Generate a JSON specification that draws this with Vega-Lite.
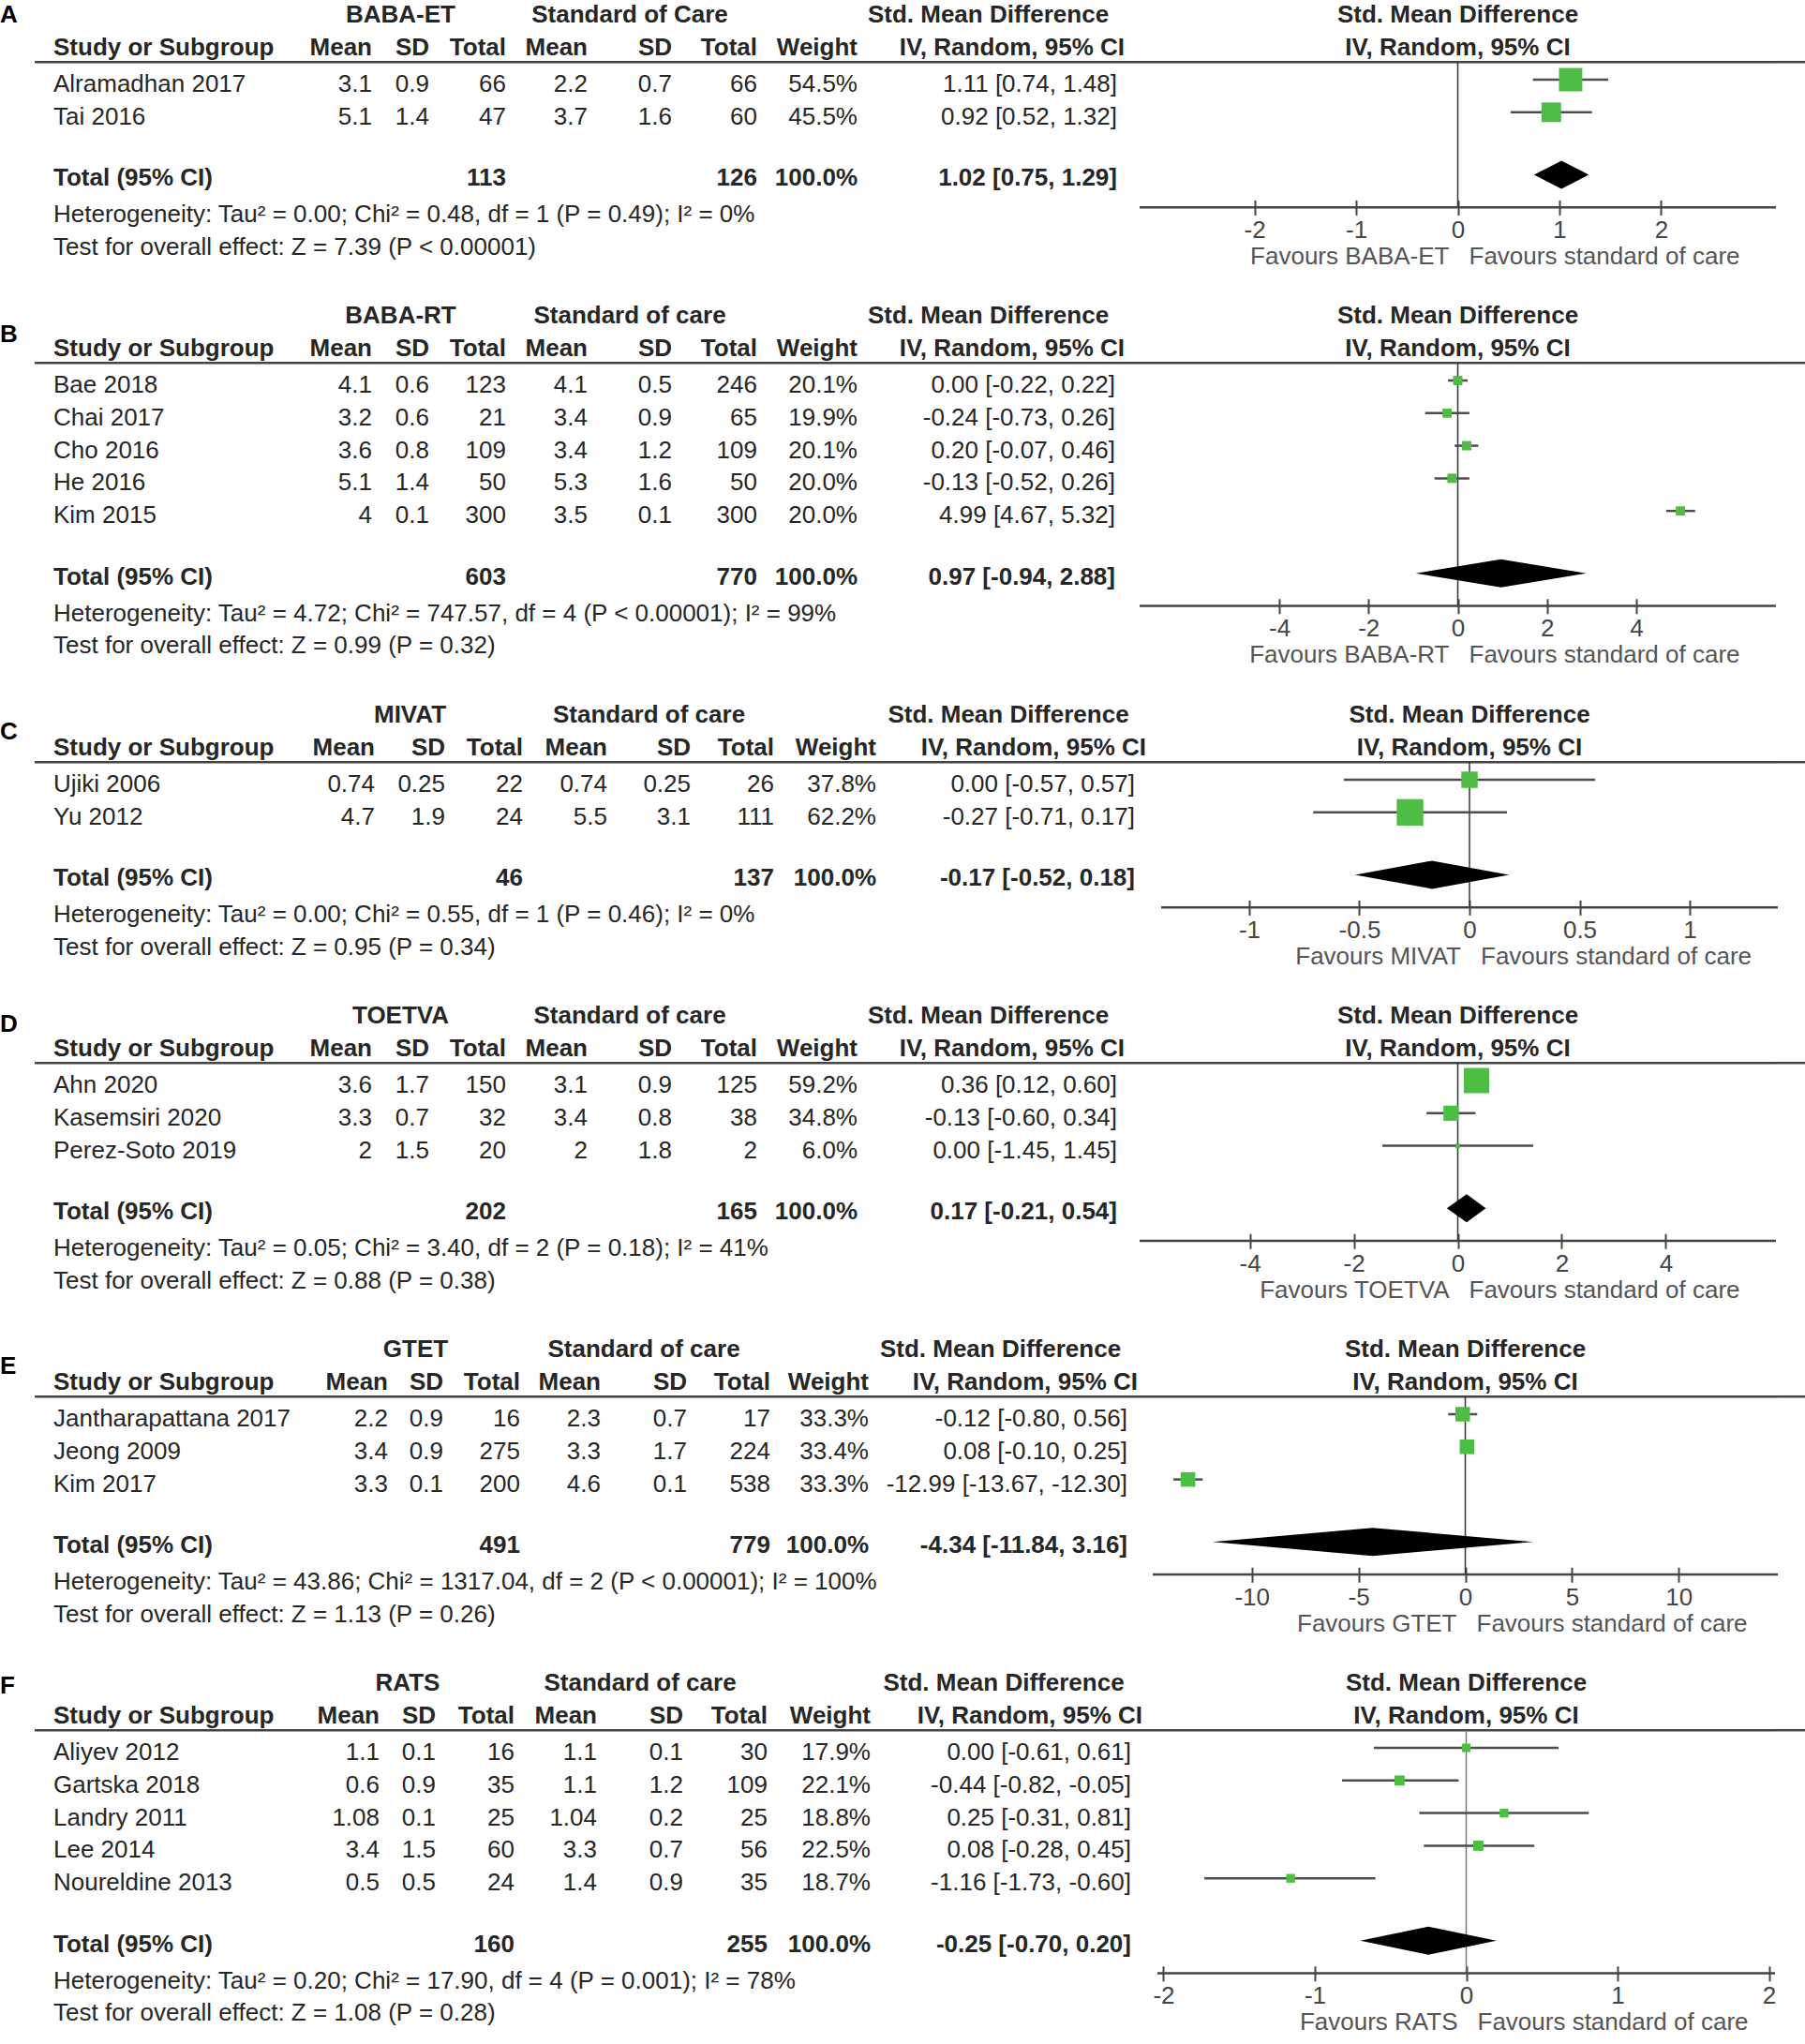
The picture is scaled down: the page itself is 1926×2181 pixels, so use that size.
{
"$schema":"https://vega.github.io/schema/vega-lite/v6.json",
"background":"white",
"padding":{"left":0,"top":3,"right":0,"bottom":0},
"config":{"view":{"stroke":null},"text":{"font":"Liberation Sans","fontSize":26,"baseline":"middle","color":"#262626"}},
"datasets":{"rows":[
{"p":"A","row":"h1","kind":"group","letter":"A","sd1":"BABA-ET","sd2":"Standard of Care","ci":"Std. Mean Difference","fl":"Favours BABA-ET","fr":"Favours standard of care"},
{"p":"A","row":"h2","kind":"header","name":"Study or Subgroup","m1":"Mean","sd1":"SD","n1":"Total","m2":"Mean","sd2":"SD","n2":"Total","w":"Weight","ci":"IV, Random, 95% CI"},
{"p":"A","row":"Alramadhan 2017","kind":"study","name":"Alramadhan 2017","m1":3.1,"sd1":0.9,"n1":66,"m2":2.2,"sd2":0.7,"n2":66,"wt":0.545,"ci":"1.11 [0.74, 1.48]","est":1.11,"lo":0.74,"hi":1.48},
{"p":"A","row":"Tai 2016","kind":"study","name":"Tai 2016","m1":5.1,"sd1":1.4,"n1":47,"m2":3.7,"sd2":1.6,"n2":60,"wt":0.455,"ci":"0.92 [0.52, 1.32]","est":0.92,"lo":0.52,"hi":1.32},
{"p":"A","row":"total","kind":"total","name":"Total (95% CI)","n1":113,"n2":126,"wt":1,"ci":"1.02 [0.75, 1.29]","est":1.02,"lo":0.75,"hi":1.29},
{"p":"A","row":"het","kind":"note","name":"Heterogeneity: Tau² = 0.00; Chi² = 0.48, df = 1 (P = 0.49); I² = 0%"},
{"p":"A","row":"test","kind":"note","name":"Test for overall effect: Z = 7.39 (P < 0.00001)"},
{"p":"B","row":"h1","kind":"group","letter":"B","sd1":"BABA-RT","sd2":"Standard of care","ci":"Std. Mean Difference","fl":"Favours BABA-RT","fr":"Favours standard of care"},
{"p":"B","row":"h2","kind":"header","name":"Study or Subgroup","m1":"Mean","sd1":"SD","n1":"Total","m2":"Mean","sd2":"SD","n2":"Total","w":"Weight","ci":"IV, Random, 95% CI"},
{"p":"B","row":"Bae 2018","kind":"study","name":"Bae 2018","m1":4.1,"sd1":0.6,"n1":123,"m2":4.1,"sd2":0.5,"n2":246,"wt":0.201,"ci":"0.00 [-0.22, 0.22]","est":0,"lo":-0.22,"hi":0.22},
{"p":"B","row":"Chai 2017","kind":"study","name":"Chai 2017","m1":3.2,"sd1":0.6,"n1":21,"m2":3.4,"sd2":0.9,"n2":65,"wt":0.199,"ci":"-0.24 [-0.73, 0.26]","est":-0.24,"lo":-0.73,"hi":0.26},
{"p":"B","row":"Cho 2016","kind":"study","name":"Cho 2016","m1":3.6,"sd1":0.8,"n1":109,"m2":3.4,"sd2":1.2,"n2":109,"wt":0.201,"ci":"0.20 [-0.07, 0.46]","est":0.2,"lo":-0.07,"hi":0.46},
{"p":"B","row":"He 2016","kind":"study","name":"He 2016","m1":5.1,"sd1":1.4,"n1":50,"m2":5.3,"sd2":1.6,"n2":50,"wt":0.2,"ci":"-0.13 [-0.52, 0.26]","est":-0.13,"lo":-0.52,"hi":0.26},
{"p":"B","row":"Kim 2015","kind":"study","name":"Kim 2015","m1":4,"sd1":0.1,"n1":300,"m2":3.5,"sd2":0.1,"n2":300,"wt":0.2,"ci":"4.99 [4.67, 5.32]","est":4.99,"lo":4.67,"hi":5.32},
{"p":"B","row":"total","kind":"total","name":"Total (95% CI)","n1":603,"n2":770,"wt":1,"ci":"0.97 [-0.94, 2.88]","est":0.97,"lo":-0.94,"hi":2.88},
{"p":"B","row":"het","kind":"note","name":"Heterogeneity: Tau² = 4.72; Chi² = 747.57, df = 4 (P < 0.00001); I² = 99%"},
{"p":"B","row":"test","kind":"note","name":"Test for overall effect: Z = 0.99 (P = 0.32)"},
{"p":"C","row":"h1","kind":"group","letter":"C","sd1":"MIVAT","sd2":"Standard of care","ci":"Std. Mean Difference","fl":"Favours MIVAT","fr":"Favours standard of care"},
{"p":"C","row":"h2","kind":"header","name":"Study or Subgroup","m1":"Mean","sd1":"SD","n1":"Total","m2":"Mean","sd2":"SD","n2":"Total","w":"Weight","ci":"IV, Random, 95% CI"},
{"p":"C","row":"Ujiki 2006","kind":"study","name":"Ujiki 2006","m1":0.74,"sd1":0.25,"n1":22,"m2":0.74,"sd2":0.25,"n2":26,"wt":0.378,"ci":"0.00 [-0.57, 0.57]","est":0,"lo":-0.57,"hi":0.57},
{"p":"C","row":"Yu 2012","kind":"study","name":"Yu 2012","m1":4.7,"sd1":1.9,"n1":24,"m2":5.5,"sd2":3.1,"n2":111,"wt":0.622,"ci":"-0.27 [-0.71, 0.17]","est":-0.27,"lo":-0.71,"hi":0.17},
{"p":"C","row":"total","kind":"total","name":"Total (95% CI)","n1":46,"n2":137,"wt":1,"ci":"-0.17 [-0.52, 0.18]","est":-0.17,"lo":-0.52,"hi":0.18},
{"p":"C","row":"het","kind":"note","name":"Heterogeneity: Tau² = 0.00; Chi² = 0.55, df = 1 (P = 0.46); I² = 0%"},
{"p":"C","row":"test","kind":"note","name":"Test for overall effect: Z = 0.95 (P = 0.34)"},
{"p":"D","row":"h1","kind":"group","letter":"D","sd1":"TOETVA","sd2":"Standard of care","ci":"Std. Mean Difference","fl":"Favours TOETVA","fr":"Favours standard of care"},
{"p":"D","row":"h2","kind":"header","name":"Study or Subgroup","m1":"Mean","sd1":"SD","n1":"Total","m2":"Mean","sd2":"SD","n2":"Total","w":"Weight","ci":"IV, Random, 95% CI"},
{"p":"D","row":"Ahn 2020","kind":"study","name":"Ahn 2020","m1":3.6,"sd1":1.7,"n1":150,"m2":3.1,"sd2":0.9,"n2":125,"wt":0.592,"ci":"0.36 [0.12, 0.60]","est":0.36,"lo":0.12,"hi":0.6},
{"p":"D","row":"Kasemsiri 2020","kind":"study","name":"Kasemsiri 2020","m1":3.3,"sd1":0.7,"n1":32,"m2":3.4,"sd2":0.8,"n2":38,"wt":0.348,"ci":"-0.13 [-0.60, 0.34]","est":-0.13,"lo":-0.6,"hi":0.34},
{"p":"D","row":"Perez-Soto 2019","kind":"study","name":"Perez-Soto 2019","m1":2,"sd1":1.5,"n1":20,"m2":2,"sd2":1.8,"n2":2,"wt":0.06,"ci":"0.00 [-1.45, 1.45]","est":0,"lo":-1.45,"hi":1.45},
{"p":"D","row":"total","kind":"total","name":"Total (95% CI)","n1":202,"n2":165,"wt":1,"ci":"0.17 [-0.21, 0.54]","est":0.17,"lo":-0.21,"hi":0.54},
{"p":"D","row":"het","kind":"note","name":"Heterogeneity: Tau² = 0.05; Chi² = 3.40, df = 2 (P = 0.18); I² = 41%"},
{"p":"D","row":"test","kind":"note","name":"Test for overall effect: Z = 0.88 (P = 0.38)"},
{"p":"E","row":"h1","kind":"group","letter":"E","sd1":"GTET","sd2":"Standard of care","ci":"Std. Mean Difference","fl":"Favours GTET","fr":"Favours standard of care"},
{"p":"E","row":"h2","kind":"header","name":"Study or Subgroup","m1":"Mean","sd1":"SD","n1":"Total","m2":"Mean","sd2":"SD","n2":"Total","w":"Weight","ci":"IV, Random, 95% CI"},
{"p":"E","row":"Jantharapattana 2017","kind":"study","name":"Jantharapattana 2017","m1":2.2,"sd1":0.9,"n1":16,"m2":2.3,"sd2":0.7,"n2":17,"wt":0.333,"ci":"-0.12 [-0.80, 0.56]","est":-0.12,"lo":-0.8,"hi":0.56},
{"p":"E","row":"Jeong 2009","kind":"study","name":"Jeong 2009","m1":3.4,"sd1":0.9,"n1":275,"m2":3.3,"sd2":1.7,"n2":224,"wt":0.334,"ci":"0.08 [-0.10, 0.25]","est":0.08,"lo":-0.1,"hi":0.25},
{"p":"E","row":"Kim 2017","kind":"study","name":"Kim 2017","m1":3.3,"sd1":0.1,"n1":200,"m2":4.6,"sd2":0.1,"n2":538,"wt":0.333,"ci":"-12.99 [-13.67, -12.30]","est":-12.99,"lo":-13.67,"hi":-12.3},
{"p":"E","row":"total","kind":"total","name":"Total (95% CI)","n1":491,"n2":779,"wt":1,"ci":"-4.34 [-11.84, 3.16]","est":-4.34,"lo":-11.84,"hi":3.16},
{"p":"E","row":"het","kind":"note","name":"Heterogeneity: Tau² = 43.86; Chi² = 1317.04, df = 2 (P < 0.00001); I² = 100%"},
{"p":"E","row":"test","kind":"note","name":"Test for overall effect: Z = 1.13 (P = 0.26)"},
{"p":"F","row":"h1","kind":"group","letter":"F","sd1":"RATS","sd2":"Standard of care","ci":"Std. Mean Difference","fl":"Favours RATS","fr":"Favours standard of care"},
{"p":"F","row":"h2","kind":"header","name":"Study or Subgroup","m1":"Mean","sd1":"SD","n1":"Total","m2":"Mean","sd2":"SD","n2":"Total","w":"Weight","ci":"IV, Random, 95% CI"},
{"p":"F","row":"Aliyev 2012","kind":"study","name":"Aliyev 2012","m1":1.1,"sd1":0.1,"n1":16,"m2":1.1,"sd2":0.1,"n2":30,"wt":0.179,"ci":"0.00 [-0.61, 0.61]","est":0,"lo":-0.61,"hi":0.61},
{"p":"F","row":"Gartska 2018","kind":"study","name":"Gartska 2018","m1":0.6,"sd1":0.9,"n1":35,"m2":1.1,"sd2":1.2,"n2":109,"wt":0.221,"ci":"-0.44 [-0.82, -0.05]","est":-0.44,"lo":-0.82,"hi":-0.05},
{"p":"F","row":"Landry 2011","kind":"study","name":"Landry 2011","m1":1.08,"sd1":0.1,"n1":25,"m2":1.04,"sd2":0.2,"n2":25,"wt":0.188,"ci":"0.25 [-0.31, 0.81]","est":0.25,"lo":-0.31,"hi":0.81},
{"p":"F","row":"Lee 2014","kind":"study","name":"Lee 2014","m1":3.4,"sd1":1.5,"n1":60,"m2":3.3,"sd2":0.7,"n2":56,"wt":0.225,"ci":"0.08 [-0.28, 0.45]","est":0.08,"lo":-0.28,"hi":0.45},
{"p":"F","row":"Noureldine 2013","kind":"study","name":"Noureldine 2013","m1":0.5,"sd1":0.5,"n1":24,"m2":1.4,"sd2":0.9,"n2":35,"wt":0.187,"ci":"-1.16 [-1.73, -0.60]","est":-1.16,"lo":-1.73,"hi":-0.6},
{"p":"F","row":"total","kind":"total","name":"Total (95% CI)","n1":160,"n2":255,"wt":1,"ci":"-0.25 [-0.70, 0.20]","est":-0.25,"lo":-0.7,"hi":0.2},
{"p":"F","row":"het","kind":"note","name":"Heterogeneity: Tau² = 0.20; Chi² = 17.90, df = 4 (P = 0.001); I² = 78%"},
{"p":"F","row":"test","kind":"note","name":"Test for overall effect: Z = 1.08 (P = 0.28)"}
]},
"spacing":37,
"vconcat":[
{"data":{"name":"rows"},"transform":[{"filter":"datum.p=='A'"}],"spacing":0,"bounds":"flush","hconcat":[
{"width":37,"height":278.4,"encoding":{"y":{"field":"row","type":"nominal","scale":{"type":"point","padding":0.5,"domain":["h1","h2","Alramadhan 2017","Tai 2016","gap","total","het","test"]},"axis":null}},"layer":[
{"transform":[{"filter":"datum.kind=='group'"}],"mark":{"type":"text","align":"left","fontWeight":"bold","fontSize":26,"dy":-4,"color":"#000"},"encoding":{"x":{"datum":0,"type":"quantitative","scale":{"domain":[0,1]},"axis":null},"text":{"field":"letter","type":"nominal"}}}]},
{"width":283,"height":278.4,"encoding":{"y":{"field":"row","type":"nominal","scale":{"type":"point","padding":0.5,"domain":["h1","h2","Alramadhan 2017","Tai 2016","gap","total","het","test"]},"axis":null}},"layer":[
{"transform":[{"filter":"datum.kind=='study'||datum.kind=='note'"}],"mark":{"type":"text","align":"left","dx":20},"encoding":{"x":{"datum":0,"type":"quantitative","scale":{"domain":[0,1]},"axis":null},"text":{"field":"name","type":"nominal"}}},
{"transform":[{"filter":"datum.kind=='header'||datum.kind=='total'"}],"mark":{"type":"text","align":"left","dx":20,"dy":-4,"fontWeight":"bold"},"encoding":{"x":{"datum":0,"type":"quantitative","scale":{"domain":[0,1]},"axis":null},"text":{"field":"name","type":"nominal"}}},
{"transform":[{"filter":"datum.kind=='group'"}],"mark":{"type":"rule","yOffset":11,"color":"#444","strokeWidth":2.5},"encoding":{"y":{"datum":"h2","type":"nominal"}}}]},
{"width":77,"height":278.4,"encoding":{"y":{"field":"row","type":"nominal","scale":{"type":"point","padding":0.5,"domain":["h1","h2","Alramadhan 2017","Tai 2016","gap","total","het","test"]},"axis":null}},"layer":[
{"transform":[{"filter":"datum.kind=='study'"}],"mark":{"type":"text","align":"right"},"encoding":{"x":{"datum":1,"type":"quantitative","scale":{"domain":[0,1]},"axis":null},"text":{"field":"m1","type":"quantitative"}}},
{"transform":[{"filter":"datum.kind=='header'"}],"mark":{"type":"text","align":"right","dy":-4,"fontWeight":"bold"},"encoding":{"x":{"datum":1,"type":"quantitative","scale":{"domain":[0,1]},"axis":null},"text":{"field":"m1","type":"nominal"}}},
{"transform":[{"filter":"datum.kind=='group'"}],"mark":{"type":"rule","yOffset":11,"color":"#444","strokeWidth":2.5},"encoding":{"y":{"datum":"h2","type":"nominal"}}}]},
{"width":61,"height":278.4,"encoding":{"y":{"field":"row","type":"nominal","scale":{"type":"point","padding":0.5,"domain":["h1","h2","Alramadhan 2017","Tai 2016","gap","total","het","test"]},"axis":null}},"layer":[
{"transform":[{"filter":"datum.kind=='study'"}],"mark":{"type":"text","align":"right"},"encoding":{"x":{"datum":1,"type":"quantitative","scale":{"domain":[0,1]},"axis":null},"text":{"field":"sd1","type":"quantitative"}}},
{"transform":[{"filter":"datum.kind=='header'"}],"mark":{"type":"text","align":"right","dy":-4,"fontWeight":"bold"},"encoding":{"x":{"datum":1,"type":"quantitative","scale":{"domain":[0,1]},"axis":null},"text":{"field":"sd1","type":"nominal"}}},
{"transform":[{"filter":"datum.kind=='group'"}],"mark":{"type":"text","align":"center","dy":-4,"fontWeight":"bold"},"encoding":{"x":{"datum":0.5,"type":"quantitative","scale":{"domain":[0,1]},"axis":null},"text":{"field":"sd1","type":"nominal"}}},
{"transform":[{"filter":"datum.kind=='group'"}],"mark":{"type":"rule","yOffset":11,"color":"#444","strokeWidth":2.5},"encoding":{"y":{"datum":"h2","type":"nominal"}}}]},
{"width":82,"height":278.4,"encoding":{"y":{"field":"row","type":"nominal","scale":{"type":"point","padding":0.5,"domain":["h1","h2","Alramadhan 2017","Tai 2016","gap","total","het","test"]},"axis":null}},"layer":[
{"transform":[{"filter":"datum.kind=='study'"}],"mark":{"type":"text","align":"right"},"encoding":{"x":{"datum":1,"type":"quantitative","scale":{"domain":[0,1]},"axis":null},"text":{"field":"n1","type":"quantitative"}}},
{"transform":[{"filter":"datum.kind=='header'||datum.kind=='total'"}],"mark":{"type":"text","align":"right","dy":-4,"fontWeight":"bold"},"encoding":{"x":{"datum":1,"type":"quantitative","scale":{"domain":[0,1]},"axis":null},"text":{"field":"n1","type":"nominal"}}},
{"transform":[{"filter":"datum.kind=='group'"}],"mark":{"type":"rule","yOffset":11,"color":"#444","strokeWidth":2.5},"encoding":{"y":{"datum":"h2","type":"nominal"}}}]},
{"width":87,"height":278.4,"encoding":{"y":{"field":"row","type":"nominal","scale":{"type":"point","padding":0.5,"domain":["h1","h2","Alramadhan 2017","Tai 2016","gap","total","het","test"]},"axis":null}},"layer":[
{"transform":[{"filter":"datum.kind=='study'"}],"mark":{"type":"text","align":"right"},"encoding":{"x":{"datum":1,"type":"quantitative","scale":{"domain":[0,1]},"axis":null},"text":{"field":"m2","type":"quantitative"}}},
{"transform":[{"filter":"datum.kind=='header'"}],"mark":{"type":"text","align":"right","dy":-4,"fontWeight":"bold"},"encoding":{"x":{"datum":1,"type":"quantitative","scale":{"domain":[0,1]},"axis":null},"text":{"field":"m2","type":"nominal"}}},
{"transform":[{"filter":"datum.kind=='group'"}],"mark":{"type":"rule","yOffset":11,"color":"#444","strokeWidth":2.5},"encoding":{"y":{"datum":"h2","type":"nominal"}}}]},
{"width":90,"height":278.4,"encoding":{"y":{"field":"row","type":"nominal","scale":{"type":"point","padding":0.5,"domain":["h1","h2","Alramadhan 2017","Tai 2016","gap","total","het","test"]},"axis":null}},"layer":[
{"transform":[{"filter":"datum.kind=='study'"}],"mark":{"type":"text","align":"right"},"encoding":{"x":{"datum":1,"type":"quantitative","scale":{"domain":[0,1]},"axis":null},"text":{"field":"sd2","type":"quantitative"}}},
{"transform":[{"filter":"datum.kind=='header'"}],"mark":{"type":"text","align":"right","dy":-4,"fontWeight":"bold"},"encoding":{"x":{"datum":1,"type":"quantitative","scale":{"domain":[0,1]},"axis":null},"text":{"field":"sd2","type":"nominal"}}},
{"transform":[{"filter":"datum.kind=='group'"}],"mark":{"type":"text","align":"center","dy":-4,"fontWeight":"bold"},"encoding":{"x":{"datum":0.5,"type":"quantitative","scale":{"domain":[0,1]},"axis":null},"text":{"field":"sd2","type":"nominal"}}},
{"transform":[{"filter":"datum.kind=='group'"}],"mark":{"type":"rule","yOffset":11,"color":"#444","strokeWidth":2.5},"encoding":{"y":{"datum":"h2","type":"nominal"}}}]},
{"width":91,"height":278.4,"encoding":{"y":{"field":"row","type":"nominal","scale":{"type":"point","padding":0.5,"domain":["h1","h2","Alramadhan 2017","Tai 2016","gap","total","het","test"]},"axis":null}},"layer":[
{"transform":[{"filter":"datum.kind=='study'"}],"mark":{"type":"text","align":"right"},"encoding":{"x":{"datum":1,"type":"quantitative","scale":{"domain":[0,1]},"axis":null},"text":{"field":"n2","type":"quantitative"}}},
{"transform":[{"filter":"datum.kind=='header'||datum.kind=='total'"}],"mark":{"type":"text","align":"right","dy":-4,"fontWeight":"bold"},"encoding":{"x":{"datum":1,"type":"quantitative","scale":{"domain":[0,1]},"axis":null},"text":{"field":"n2","type":"nominal"}}},
{"transform":[{"filter":"datum.kind=='group'"}],"mark":{"type":"rule","yOffset":11,"color":"#444","strokeWidth":2.5},"encoding":{"y":{"datum":"h2","type":"nominal"}}}]},
{"width":107,"height":278.4,"encoding":{"y":{"field":"row","type":"nominal","scale":{"type":"point","padding":0.5,"domain":["h1","h2","Alramadhan 2017","Tai 2016","gap","total","het","test"]},"axis":null}},"layer":[
{"transform":[{"filter":"datum.kind=='study'"}],"mark":{"type":"text","align":"right"},"encoding":{"x":{"datum":1,"type":"quantitative","scale":{"domain":[0,1]},"axis":null},"text":{"field":"wt","type":"quantitative","format":".1%"}}},
{"transform":[{"filter":"datum.kind=='total'"}],"mark":{"type":"text","align":"right","dy":-4,"fontWeight":"bold"},"encoding":{"x":{"datum":1,"type":"quantitative","scale":{"domain":[0,1]},"axis":null},"text":{"field":"wt","type":"quantitative","format":".1%"}}},
{"transform":[{"filter":"datum.kind=='header'"}],"mark":{"type":"text","align":"right","dy":-4,"fontWeight":"bold"},"encoding":{"x":{"datum":1,"type":"quantitative","scale":{"domain":[0,1]},"axis":null},"text":{"field":"w","type":"nominal"}}},
{"transform":[{"filter":"datum.kind=='group'"}],"mark":{"type":"rule","yOffset":11,"color":"#444","strokeWidth":2.5},"encoding":{"y":{"datum":"h2","type":"nominal"}}}]},
{"width":301,"height":278.4,"encoding":{"y":{"field":"row","type":"nominal","scale":{"type":"point","padding":0.5,"domain":["h1","h2","Alramadhan 2017","Tai 2016","gap","total","het","test"]},"axis":null}},"layer":[
{"transform":[{"filter":"datum.kind=='study'"}],"mark":{"type":"text","align":"right","dx":-24},"encoding":{"x":{"datum":1,"type":"quantitative","scale":{"domain":[0,1]},"axis":null},"text":{"field":"ci","type":"nominal"}}},
{"transform":[{"filter":"datum.kind=='total'"}],"mark":{"type":"text","align":"right","dx":-24,"dy":-4,"fontWeight":"bold"},"encoding":{"x":{"datum":1,"type":"quantitative","scale":{"domain":[0,1]},"axis":null},"text":{"field":"ci","type":"nominal"}}},
{"transform":[{"filter":"datum.kind=='header'"}],"mark":{"type":"text","align":"right","dx":-16,"dy":-4,"fontWeight":"bold"},"encoding":{"x":{"datum":1,"type":"quantitative","scale":{"domain":[0,1]},"axis":null},"text":{"field":"ci","type":"nominal"}}},
{"transform":[{"filter":"datum.kind=='group'"}],"mark":{"type":"text","align":"center","dx":-11,"dy":-4,"fontWeight":"bold"},"encoding":{"x":{"datum":0.5,"type":"quantitative","scale":{"domain":[0,1]},"axis":null},"text":{"field":"ci","type":"nominal"}}},
{"transform":[{"filter":"datum.kind=='group'"}],"mark":{"type":"rule","yOffset":11,"color":"#444","strokeWidth":2.5},"encoding":{"y":{"datum":"h2","type":"nominal"}}}]},
{"width":679,"height":278.4,"encoding":{"y":{"field":"row","type":"nominal","scale":{"type":"point","padding":0.5,"domain":["h1","h2","Alramadhan 2017","Tai 2016","gap","total","het","test"]},"axis":null}},"layer":[
{"transform":[{"filter":"datum.kind=='header'||datum.kind=='group'"}],"mark":{"type":"text","align":"center","dy":-4,"fontWeight":"bold"},"encoding":{"x":{"datum":0,"type":"quantitative","scale":{"domain":[-3.13,3.13],"nice":false}},"text":{"field":"ci","type":"nominal"}}},
{"transform":[{"filter":"datum.kind=='group'"}],"mark":{"type":"rule","yOffset":11,"color":"#444","strokeWidth":2.5},"encoding":{"y":{"datum":"h2","type":"nominal"}}},
{"transform":[{"filter":"datum.kind=='group'"}],"mark":{"type":"rule","color":"#333","strokeWidth":1.5,"yOffset":11,"y2Offset":-8},"encoding":{"x":{"datum":0,"type":"quantitative","scale":{"domain":[-3.13,3.13],"nice":false}},"y":{"datum":"h2","type":"nominal"},"y2":{"datum":"het"}}},
{"transform":[{"filter":"datum.kind=='group'"}],"mark":{"type":"rule","color":"#444","strokeWidth":2.5,"yOffset":-8},"encoding":{"y":{"datum":"het","type":"nominal"}}},
{"transform":[{"filter":"datum.kind=='study'"}],"mark":{"type":"rule","color":"#4d4d4d","strokeWidth":2.5,"yOffset":-5},"encoding":{"x":{"field":"lo","type":"quantitative","scale":{"domain":[-3.13,3.13],"nice":false}},"x2":{"field":"hi"}}},
{"transform":[{"filter":"datum.kind=='study'"}],"mark":{"type":"point","shape":"square","filled":true,"color":"#4dbd44","opacity":1,"strokeWidth":0,"yOffset":-5},"encoding":{"x":{"field":"est","type":"quantitative","scale":{"domain":[-3.13,3.13],"nice":false},"axis":{"orient":"bottom","offset":-68,"values":[-2,-1,0,1,2],"format":"~g","labelExpr":"replace(datum.label,'−','-')","domain":false,"grid":false,"tickSize":16,"tickWidth":2,"tickColor":"#444","labelFontSize":26,"labelColor":"#444","labelFont":"Liberation Sans","labelPadding":3,"labelFlush":false,"labelOverlap":false,"title":null}},"size":{"field":"wt","type":"quantitative","scale":{"type":"pow","exponent":2,"domain":[0,1],"range":[16,2049]},"legend":null}}},
{"transform":[{"filter":"datum.kind=='total'"},{"fold":["lo","est","hi"]}],"mark":{"type":"area","orient":"vertical","color":"#000","opacity":1,"yOffset":{"expr":"datum.key=='est' ? -23 : -8"},"y2Offset":{"expr":"datum.key=='est' ? 7 : -8"}},"encoding":{"x":{"field":"value","type":"quantitative","stack":null,"scale":{"domain":[-3.13,3.13],"nice":false}},"y":{"datum":"total","type":"nominal"},"y2":{"datum":"total"}}},
{"transform":[{"filter":"datum.kind=='group'"}],"mark":{"type":"text","align":"right","dx":-9,"dy":10,"color":"#555"},"encoding":{"x":{"datum":0,"type":"quantitative","scale":{"domain":[-3.13,3.13],"nice":false}},"y":{"datum":"test","type":"nominal"},"text":{"field":"fl","type":"nominal"}}},
{"transform":[{"filter":"datum.kind=='group'"}],"mark":{"type":"text","align":"left","dx":12,"dy":10,"color":"#555"},"encoding":{"x":{"datum":0,"type":"quantitative","scale":{"domain":[-3.13,3.13],"nice":false}},"y":{"datum":"test","type":"nominal"},"text":{"field":"fr","type":"nominal"}}}]},
{"width":31,"height":278.4,"encoding":{"y":{"field":"row","type":"nominal","scale":{"type":"point","padding":0.5,"domain":["h1","h2","Alramadhan 2017","Tai 2016","gap","total","het","test"]},"axis":null}},"layer":[
{"transform":[{"filter":"datum.kind=='group'"}],"mark":{"type":"rule","yOffset":11,"color":"#444","strokeWidth":2.5},"encoding":{"y":{"datum":"h2","type":"nominal"}}}]}
]},
{"data":{"name":"rows"},"transform":[{"filter":"datum.p=='B'"}],"spacing":0,"bounds":"flush","hconcat":[
{"width":37,"height":382.8,"encoding":{"y":{"field":"row","type":"nominal","scale":{"type":"point","padding":0.5,"domain":["h1","h2","Bae 2018","Chai 2017","Cho 2016","He 2016","Kim 2015","gap","total","het","test"]},"axis":null}},"layer":[
{"transform":[{"filter":"datum.kind=='group'"}],"mark":{"type":"text","align":"left","fontWeight":"bold","fontSize":26,"dy":16,"color":"#000"},"encoding":{"x":{"datum":0,"type":"quantitative","scale":{"domain":[0,1]},"axis":null},"text":{"field":"letter","type":"nominal"}}}]},
{"width":283,"height":382.8,"encoding":{"y":{"field":"row","type":"nominal","scale":{"type":"point","padding":0.5,"domain":["h1","h2","Bae 2018","Chai 2017","Cho 2016","He 2016","Kim 2015","gap","total","het","test"]},"axis":null}},"layer":[
{"transform":[{"filter":"datum.kind=='study'||datum.kind=='note'"}],"mark":{"type":"text","align":"left","dx":20},"encoding":{"x":{"datum":0,"type":"quantitative","scale":{"domain":[0,1]},"axis":null},"text":{"field":"name","type":"nominal"}}},
{"transform":[{"filter":"datum.kind=='header'||datum.kind=='total'"}],"mark":{"type":"text","align":"left","dx":20,"dy":-4,"fontWeight":"bold"},"encoding":{"x":{"datum":0,"type":"quantitative","scale":{"domain":[0,1]},"axis":null},"text":{"field":"name","type":"nominal"}}},
{"transform":[{"filter":"datum.kind=='group'"}],"mark":{"type":"rule","yOffset":11,"color":"#444","strokeWidth":2.5},"encoding":{"y":{"datum":"h2","type":"nominal"}}}]},
{"width":77,"height":382.8,"encoding":{"y":{"field":"row","type":"nominal","scale":{"type":"point","padding":0.5,"domain":["h1","h2","Bae 2018","Chai 2017","Cho 2016","He 2016","Kim 2015","gap","total","het","test"]},"axis":null}},"layer":[
{"transform":[{"filter":"datum.kind=='study'"}],"mark":{"type":"text","align":"right"},"encoding":{"x":{"datum":1,"type":"quantitative","scale":{"domain":[0,1]},"axis":null},"text":{"field":"m1","type":"quantitative"}}},
{"transform":[{"filter":"datum.kind=='header'"}],"mark":{"type":"text","align":"right","dy":-4,"fontWeight":"bold"},"encoding":{"x":{"datum":1,"type":"quantitative","scale":{"domain":[0,1]},"axis":null},"text":{"field":"m1","type":"nominal"}}},
{"transform":[{"filter":"datum.kind=='group'"}],"mark":{"type":"rule","yOffset":11,"color":"#444","strokeWidth":2.5},"encoding":{"y":{"datum":"h2","type":"nominal"}}}]},
{"width":61,"height":382.8,"encoding":{"y":{"field":"row","type":"nominal","scale":{"type":"point","padding":0.5,"domain":["h1","h2","Bae 2018","Chai 2017","Cho 2016","He 2016","Kim 2015","gap","total","het","test"]},"axis":null}},"layer":[
{"transform":[{"filter":"datum.kind=='study'"}],"mark":{"type":"text","align":"right"},"encoding":{"x":{"datum":1,"type":"quantitative","scale":{"domain":[0,1]},"axis":null},"text":{"field":"sd1","type":"quantitative"}}},
{"transform":[{"filter":"datum.kind=='header'"}],"mark":{"type":"text","align":"right","dy":-4,"fontWeight":"bold"},"encoding":{"x":{"datum":1,"type":"quantitative","scale":{"domain":[0,1]},"axis":null},"text":{"field":"sd1","type":"nominal"}}},
{"transform":[{"filter":"datum.kind=='group'"}],"mark":{"type":"text","align":"center","dy":-4,"fontWeight":"bold"},"encoding":{"x":{"datum":0.5,"type":"quantitative","scale":{"domain":[0,1]},"axis":null},"text":{"field":"sd1","type":"nominal"}}},
{"transform":[{"filter":"datum.kind=='group'"}],"mark":{"type":"rule","yOffset":11,"color":"#444","strokeWidth":2.5},"encoding":{"y":{"datum":"h2","type":"nominal"}}}]},
{"width":82,"height":382.8,"encoding":{"y":{"field":"row","type":"nominal","scale":{"type":"point","padding":0.5,"domain":["h1","h2","Bae 2018","Chai 2017","Cho 2016","He 2016","Kim 2015","gap","total","het","test"]},"axis":null}},"layer":[
{"transform":[{"filter":"datum.kind=='study'"}],"mark":{"type":"text","align":"right"},"encoding":{"x":{"datum":1,"type":"quantitative","scale":{"domain":[0,1]},"axis":null},"text":{"field":"n1","type":"quantitative"}}},
{"transform":[{"filter":"datum.kind=='header'||datum.kind=='total'"}],"mark":{"type":"text","align":"right","dy":-4,"fontWeight":"bold"},"encoding":{"x":{"datum":1,"type":"quantitative","scale":{"domain":[0,1]},"axis":null},"text":{"field":"n1","type":"nominal"}}},
{"transform":[{"filter":"datum.kind=='group'"}],"mark":{"type":"rule","yOffset":11,"color":"#444","strokeWidth":2.5},"encoding":{"y":{"datum":"h2","type":"nominal"}}}]},
{"width":87,"height":382.8,"encoding":{"y":{"field":"row","type":"nominal","scale":{"type":"point","padding":0.5,"domain":["h1","h2","Bae 2018","Chai 2017","Cho 2016","He 2016","Kim 2015","gap","total","het","test"]},"axis":null}},"layer":[
{"transform":[{"filter":"datum.kind=='study'"}],"mark":{"type":"text","align":"right"},"encoding":{"x":{"datum":1,"type":"quantitative","scale":{"domain":[0,1]},"axis":null},"text":{"field":"m2","type":"quantitative"}}},
{"transform":[{"filter":"datum.kind=='header'"}],"mark":{"type":"text","align":"right","dy":-4,"fontWeight":"bold"},"encoding":{"x":{"datum":1,"type":"quantitative","scale":{"domain":[0,1]},"axis":null},"text":{"field":"m2","type":"nominal"}}},
{"transform":[{"filter":"datum.kind=='group'"}],"mark":{"type":"rule","yOffset":11,"color":"#444","strokeWidth":2.5},"encoding":{"y":{"datum":"h2","type":"nominal"}}}]},
{"width":90,"height":382.8,"encoding":{"y":{"field":"row","type":"nominal","scale":{"type":"point","padding":0.5,"domain":["h1","h2","Bae 2018","Chai 2017","Cho 2016","He 2016","Kim 2015","gap","total","het","test"]},"axis":null}},"layer":[
{"transform":[{"filter":"datum.kind=='study'"}],"mark":{"type":"text","align":"right"},"encoding":{"x":{"datum":1,"type":"quantitative","scale":{"domain":[0,1]},"axis":null},"text":{"field":"sd2","type":"quantitative"}}},
{"transform":[{"filter":"datum.kind=='header'"}],"mark":{"type":"text","align":"right","dy":-4,"fontWeight":"bold"},"encoding":{"x":{"datum":1,"type":"quantitative","scale":{"domain":[0,1]},"axis":null},"text":{"field":"sd2","type":"nominal"}}},
{"transform":[{"filter":"datum.kind=='group'"}],"mark":{"type":"text","align":"center","dy":-4,"fontWeight":"bold"},"encoding":{"x":{"datum":0.5,"type":"quantitative","scale":{"domain":[0,1]},"axis":null},"text":{"field":"sd2","type":"nominal"}}},
{"transform":[{"filter":"datum.kind=='group'"}],"mark":{"type":"rule","yOffset":11,"color":"#444","strokeWidth":2.5},"encoding":{"y":{"datum":"h2","type":"nominal"}}}]},
{"width":91,"height":382.8,"encoding":{"y":{"field":"row","type":"nominal","scale":{"type":"point","padding":0.5,"domain":["h1","h2","Bae 2018","Chai 2017","Cho 2016","He 2016","Kim 2015","gap","total","het","test"]},"axis":null}},"layer":[
{"transform":[{"filter":"datum.kind=='study'"}],"mark":{"type":"text","align":"right"},"encoding":{"x":{"datum":1,"type":"quantitative","scale":{"domain":[0,1]},"axis":null},"text":{"field":"n2","type":"quantitative"}}},
{"transform":[{"filter":"datum.kind=='header'||datum.kind=='total'"}],"mark":{"type":"text","align":"right","dy":-4,"fontWeight":"bold"},"encoding":{"x":{"datum":1,"type":"quantitative","scale":{"domain":[0,1]},"axis":null},"text":{"field":"n2","type":"nominal"}}},
{"transform":[{"filter":"datum.kind=='group'"}],"mark":{"type":"rule","yOffset":11,"color":"#444","strokeWidth":2.5},"encoding":{"y":{"datum":"h2","type":"nominal"}}}]},
{"width":107,"height":382.8,"encoding":{"y":{"field":"row","type":"nominal","scale":{"type":"point","padding":0.5,"domain":["h1","h2","Bae 2018","Chai 2017","Cho 2016","He 2016","Kim 2015","gap","total","het","test"]},"axis":null}},"layer":[
{"transform":[{"filter":"datum.kind=='study'"}],"mark":{"type":"text","align":"right"},"encoding":{"x":{"datum":1,"type":"quantitative","scale":{"domain":[0,1]},"axis":null},"text":{"field":"wt","type":"quantitative","format":".1%"}}},
{"transform":[{"filter":"datum.kind=='total'"}],"mark":{"type":"text","align":"right","dy":-4,"fontWeight":"bold"},"encoding":{"x":{"datum":1,"type":"quantitative","scale":{"domain":[0,1]},"axis":null},"text":{"field":"wt","type":"quantitative","format":".1%"}}},
{"transform":[{"filter":"datum.kind=='header'"}],"mark":{"type":"text","align":"right","dy":-4,"fontWeight":"bold"},"encoding":{"x":{"datum":1,"type":"quantitative","scale":{"domain":[0,1]},"axis":null},"text":{"field":"w","type":"nominal"}}},
{"transform":[{"filter":"datum.kind=='group'"}],"mark":{"type":"rule","yOffset":11,"color":"#444","strokeWidth":2.5},"encoding":{"y":{"datum":"h2","type":"nominal"}}}]},
{"width":301,"height":382.8,"encoding":{"y":{"field":"row","type":"nominal","scale":{"type":"point","padding":0.5,"domain":["h1","h2","Bae 2018","Chai 2017","Cho 2016","He 2016","Kim 2015","gap","total","het","test"]},"axis":null}},"layer":[
{"transform":[{"filter":"datum.kind=='study'"}],"mark":{"type":"text","align":"right","dx":-26},"encoding":{"x":{"datum":1,"type":"quantitative","scale":{"domain":[0,1]},"axis":null},"text":{"field":"ci","type":"nominal"}}},
{"transform":[{"filter":"datum.kind=='total'"}],"mark":{"type":"text","align":"right","dx":-26,"dy":-4,"fontWeight":"bold"},"encoding":{"x":{"datum":1,"type":"quantitative","scale":{"domain":[0,1]},"axis":null},"text":{"field":"ci","type":"nominal"}}},
{"transform":[{"filter":"datum.kind=='header'"}],"mark":{"type":"text","align":"right","dx":-16,"dy":-4,"fontWeight":"bold"},"encoding":{"x":{"datum":1,"type":"quantitative","scale":{"domain":[0,1]},"axis":null},"text":{"field":"ci","type":"nominal"}}},
{"transform":[{"filter":"datum.kind=='group'"}],"mark":{"type":"text","align":"center","dx":-11,"dy":-4,"fontWeight":"bold"},"encoding":{"x":{"datum":0.5,"type":"quantitative","scale":{"domain":[0,1]},"axis":null},"text":{"field":"ci","type":"nominal"}}},
{"transform":[{"filter":"datum.kind=='group'"}],"mark":{"type":"rule","yOffset":11,"color":"#444","strokeWidth":2.5},"encoding":{"y":{"datum":"h2","type":"nominal"}}}]},
{"width":679,"height":382.8,"encoding":{"y":{"field":"row","type":"nominal","scale":{"type":"point","padding":0.5,"domain":["h1","h2","Bae 2018","Chai 2017","Cho 2016","He 2016","Kim 2015","gap","total","het","test"]},"axis":null}},"layer":[
{"transform":[{"filter":"datum.kind=='header'||datum.kind=='group'"}],"mark":{"type":"text","align":"center","dy":-4,"fontWeight":"bold"},"encoding":{"x":{"datum":0,"type":"quantitative","scale":{"domain":[-7.13,7.13],"nice":false}},"text":{"field":"ci","type":"nominal"}}},
{"transform":[{"filter":"datum.kind=='group'"}],"mark":{"type":"rule","yOffset":11,"color":"#444","strokeWidth":2.5},"encoding":{"y":{"datum":"h2","type":"nominal"}}},
{"transform":[{"filter":"datum.kind=='group'"}],"mark":{"type":"rule","color":"#333","strokeWidth":1.5,"yOffset":11,"y2Offset":-8},"encoding":{"x":{"datum":0,"type":"quantitative","scale":{"domain":[-7.13,7.13],"nice":false}},"y":{"datum":"h2","type":"nominal"},"y2":{"datum":"het"}}},
{"transform":[{"filter":"datum.kind=='group'"}],"mark":{"type":"rule","color":"#444","strokeWidth":2.5,"yOffset":-8},"encoding":{"y":{"datum":"het","type":"nominal"}}},
{"transform":[{"filter":"datum.kind=='study'"}],"mark":{"type":"rule","color":"#4d4d4d","strokeWidth":2.5,"yOffset":-5},"encoding":{"x":{"field":"lo","type":"quantitative","scale":{"domain":[-7.13,7.13],"nice":false}},"x2":{"field":"hi"}}},
{"transform":[{"filter":"datum.kind=='study'"}],"mark":{"type":"point","shape":"square","filled":true,"color":"#4dbd44","opacity":1,"strokeWidth":0,"yOffset":-5},"encoding":{"x":{"field":"est","type":"quantitative","scale":{"domain":[-7.13,7.13],"nice":false},"axis":{"orient":"bottom","offset":-68,"values":[-4,-2,0,2,4],"format":"~g","labelExpr":"replace(datum.label,'−','-')","domain":false,"grid":false,"tickSize":16,"tickWidth":2,"tickColor":"#444","labelFontSize":26,"labelColor":"#444","labelFont":"Liberation Sans","labelPadding":3,"labelFlush":false,"labelOverlap":false,"title":null}},"size":{"field":"wt","type":"quantitative","scale":{"type":"pow","exponent":2,"domain":[0,1],"range":[16,2049]},"legend":null}}},
{"transform":[{"filter":"datum.kind=='total'"},{"fold":["lo","est","hi"]}],"mark":{"type":"area","orient":"vertical","color":"#000","opacity":1,"yOffset":{"expr":"datum.key=='est' ? -23 : -8"},"y2Offset":{"expr":"datum.key=='est' ? 7 : -8"}},"encoding":{"x":{"field":"value","type":"quantitative","stack":null,"scale":{"domain":[-7.13,7.13],"nice":false}},"y":{"datum":"total","type":"nominal"},"y2":{"datum":"total"}}},
{"transform":[{"filter":"datum.kind=='group'"}],"mark":{"type":"text","align":"right","dx":-9,"dy":10,"color":"#555"},"encoding":{"x":{"datum":0,"type":"quantitative","scale":{"domain":[-7.13,7.13],"nice":false}},"y":{"datum":"test","type":"nominal"},"text":{"field":"fl","type":"nominal"}}},
{"transform":[{"filter":"datum.kind=='group'"}],"mark":{"type":"text","align":"left","dx":12,"dy":10,"color":"#555"},"encoding":{"x":{"datum":0,"type":"quantitative","scale":{"domain":[-7.13,7.13],"nice":false}},"y":{"datum":"test","type":"nominal"},"text":{"field":"fr","type":"nominal"}}}]},
{"width":31,"height":382.8,"encoding":{"y":{"field":"row","type":"nominal","scale":{"type":"point","padding":0.5,"domain":["h1","h2","Bae 2018","Chai 2017","Cho 2016","He 2016","Kim 2015","gap","total","het","test"]},"axis":null}},"layer":[
{"transform":[{"filter":"datum.kind=='group'"}],"mark":{"type":"rule","yOffset":11,"color":"#444","strokeWidth":2.5},"encoding":{"y":{"datum":"h2","type":"nominal"}}}]}
]},
{"data":{"name":"rows"},"transform":[{"filter":"datum.p=='C'"}],"spacing":0,"bounds":"flush","hconcat":[
{"width":37,"height":278.4,"encoding":{"y":{"field":"row","type":"nominal","scale":{"type":"point","padding":0.5,"domain":["h1","h2","Ujiki 2006","Yu 2012","gap","total","het","test"]},"axis":null}},"layer":[
{"transform":[{"filter":"datum.kind=='group'"}],"mark":{"type":"text","align":"left","fontWeight":"bold","fontSize":26,"dy":14,"color":"#000"},"encoding":{"x":{"datum":0,"type":"quantitative","scale":{"domain":[0,1]},"axis":null},"text":{"field":"letter","type":"nominal"}}}]},
{"width":283,"height":278.4,"encoding":{"y":{"field":"row","type":"nominal","scale":{"type":"point","padding":0.5,"domain":["h1","h2","Ujiki 2006","Yu 2012","gap","total","het","test"]},"axis":null}},"layer":[
{"transform":[{"filter":"datum.kind=='study'||datum.kind=='note'"}],"mark":{"type":"text","align":"left","dx":20},"encoding":{"x":{"datum":0,"type":"quantitative","scale":{"domain":[0,1]},"axis":null},"text":{"field":"name","type":"nominal"}}},
{"transform":[{"filter":"datum.kind=='header'||datum.kind=='total'"}],"mark":{"type":"text","align":"left","dx":20,"dy":-4,"fontWeight":"bold"},"encoding":{"x":{"datum":0,"type":"quantitative","scale":{"domain":[0,1]},"axis":null},"text":{"field":"name","type":"nominal"}}},
{"transform":[{"filter":"datum.kind=='group'"}],"mark":{"type":"rule","yOffset":11,"color":"#444","strokeWidth":2.5},"encoding":{"y":{"datum":"h2","type":"nominal"}}}]},
{"width":80,"height":278.4,"encoding":{"y":{"field":"row","type":"nominal","scale":{"type":"point","padding":0.5,"domain":["h1","h2","Ujiki 2006","Yu 2012","gap","total","het","test"]},"axis":null}},"layer":[
{"transform":[{"filter":"datum.kind=='study'"}],"mark":{"type":"text","align":"right"},"encoding":{"x":{"datum":1,"type":"quantitative","scale":{"domain":[0,1]},"axis":null},"text":{"field":"m1","type":"quantitative"}}},
{"transform":[{"filter":"datum.kind=='header'"}],"mark":{"type":"text","align":"right","dy":-4,"fontWeight":"bold"},"encoding":{"x":{"datum":1,"type":"quantitative","scale":{"domain":[0,1]},"axis":null},"text":{"field":"m1","type":"nominal"}}},
{"transform":[{"filter":"datum.kind=='group'"}],"mark":{"type":"rule","yOffset":11,"color":"#444","strokeWidth":2.5},"encoding":{"y":{"datum":"h2","type":"nominal"}}}]},
{"width":75,"height":278.4,"encoding":{"y":{"field":"row","type":"nominal","scale":{"type":"point","padding":0.5,"domain":["h1","h2","Ujiki 2006","Yu 2012","gap","total","het","test"]},"axis":null}},"layer":[
{"transform":[{"filter":"datum.kind=='study'"}],"mark":{"type":"text","align":"right"},"encoding":{"x":{"datum":1,"type":"quantitative","scale":{"domain":[0,1]},"axis":null},"text":{"field":"sd1","type":"quantitative"}}},
{"transform":[{"filter":"datum.kind=='header'"}],"mark":{"type":"text","align":"right","dy":-4,"fontWeight":"bold"},"encoding":{"x":{"datum":1,"type":"quantitative","scale":{"domain":[0,1]},"axis":null},"text":{"field":"sd1","type":"nominal"}}},
{"transform":[{"filter":"datum.kind=='group'"}],"mark":{"type":"text","align":"center","dy":-4,"fontWeight":"bold"},"encoding":{"x":{"datum":0.5,"type":"quantitative","scale":{"domain":[0,1]},"axis":null},"text":{"field":"sd1","type":"nominal"}}},
{"transform":[{"filter":"datum.kind=='group'"}],"mark":{"type":"rule","yOffset":11,"color":"#444","strokeWidth":2.5},"encoding":{"y":{"datum":"h2","type":"nominal"}}}]},
{"width":83,"height":278.4,"encoding":{"y":{"field":"row","type":"nominal","scale":{"type":"point","padding":0.5,"domain":["h1","h2","Ujiki 2006","Yu 2012","gap","total","het","test"]},"axis":null}},"layer":[
{"transform":[{"filter":"datum.kind=='study'"}],"mark":{"type":"text","align":"right"},"encoding":{"x":{"datum":1,"type":"quantitative","scale":{"domain":[0,1]},"axis":null},"text":{"field":"n1","type":"quantitative"}}},
{"transform":[{"filter":"datum.kind=='header'||datum.kind=='total'"}],"mark":{"type":"text","align":"right","dy":-4,"fontWeight":"bold"},"encoding":{"x":{"datum":1,"type":"quantitative","scale":{"domain":[0,1]},"axis":null},"text":{"field":"n1","type":"nominal"}}},
{"transform":[{"filter":"datum.kind=='group'"}],"mark":{"type":"rule","yOffset":11,"color":"#444","strokeWidth":2.5},"encoding":{"y":{"datum":"h2","type":"nominal"}}}]},
{"width":90,"height":278.4,"encoding":{"y":{"field":"row","type":"nominal","scale":{"type":"point","padding":0.5,"domain":["h1","h2","Ujiki 2006","Yu 2012","gap","total","het","test"]},"axis":null}},"layer":[
{"transform":[{"filter":"datum.kind=='study'"}],"mark":{"type":"text","align":"right"},"encoding":{"x":{"datum":1,"type":"quantitative","scale":{"domain":[0,1]},"axis":null},"text":{"field":"m2","type":"quantitative"}}},
{"transform":[{"filter":"datum.kind=='header'"}],"mark":{"type":"text","align":"right","dy":-4,"fontWeight":"bold"},"encoding":{"x":{"datum":1,"type":"quantitative","scale":{"domain":[0,1]},"axis":null},"text":{"field":"m2","type":"nominal"}}},
{"transform":[{"filter":"datum.kind=='group'"}],"mark":{"type":"rule","yOffset":11,"color":"#444","strokeWidth":2.5},"encoding":{"y":{"datum":"h2","type":"nominal"}}}]},
{"width":89,"height":278.4,"encoding":{"y":{"field":"row","type":"nominal","scale":{"type":"point","padding":0.5,"domain":["h1","h2","Ujiki 2006","Yu 2012","gap","total","het","test"]},"axis":null}},"layer":[
{"transform":[{"filter":"datum.kind=='study'"}],"mark":{"type":"text","align":"right"},"encoding":{"x":{"datum":1,"type":"quantitative","scale":{"domain":[0,1]},"axis":null},"text":{"field":"sd2","type":"quantitative"}}},
{"transform":[{"filter":"datum.kind=='header'"}],"mark":{"type":"text","align":"right","dy":-4,"fontWeight":"bold"},"encoding":{"x":{"datum":1,"type":"quantitative","scale":{"domain":[0,1]},"axis":null},"text":{"field":"sd2","type":"nominal"}}},
{"transform":[{"filter":"datum.kind=='group'"}],"mark":{"type":"text","align":"center","dy":-4,"fontWeight":"bold"},"encoding":{"x":{"datum":0.5,"type":"quantitative","scale":{"domain":[0,1]},"axis":null},"text":{"field":"sd2","type":"nominal"}}},
{"transform":[{"filter":"datum.kind=='group'"}],"mark":{"type":"rule","yOffset":11,"color":"#444","strokeWidth":2.5},"encoding":{"y":{"datum":"h2","type":"nominal"}}}]},
{"width":89,"height":278.4,"encoding":{"y":{"field":"row","type":"nominal","scale":{"type":"point","padding":0.5,"domain":["h1","h2","Ujiki 2006","Yu 2012","gap","total","het","test"]},"axis":null}},"layer":[
{"transform":[{"filter":"datum.kind=='study'"}],"mark":{"type":"text","align":"right"},"encoding":{"x":{"datum":1,"type":"quantitative","scale":{"domain":[0,1]},"axis":null},"text":{"field":"n2","type":"quantitative"}}},
{"transform":[{"filter":"datum.kind=='header'||datum.kind=='total'"}],"mark":{"type":"text","align":"right","dy":-4,"fontWeight":"bold"},"encoding":{"x":{"datum":1,"type":"quantitative","scale":{"domain":[0,1]},"axis":null},"text":{"field":"n2","type":"nominal"}}},
{"transform":[{"filter":"datum.kind=='group'"}],"mark":{"type":"rule","yOffset":11,"color":"#444","strokeWidth":2.5},"encoding":{"y":{"datum":"h2","type":"nominal"}}}]},
{"width":109,"height":278.4,"encoding":{"y":{"field":"row","type":"nominal","scale":{"type":"point","padding":0.5,"domain":["h1","h2","Ujiki 2006","Yu 2012","gap","total","het","test"]},"axis":null}},"layer":[
{"transform":[{"filter":"datum.kind=='study'"}],"mark":{"type":"text","align":"right"},"encoding":{"x":{"datum":1,"type":"quantitative","scale":{"domain":[0,1]},"axis":null},"text":{"field":"wt","type":"quantitative","format":".1%"}}},
{"transform":[{"filter":"datum.kind=='total'"}],"mark":{"type":"text","align":"right","dy":-4,"fontWeight":"bold"},"encoding":{"x":{"datum":1,"type":"quantitative","scale":{"domain":[0,1]},"axis":null},"text":{"field":"wt","type":"quantitative","format":".1%"}}},
{"transform":[{"filter":"datum.kind=='header'"}],"mark":{"type":"text","align":"right","dy":-4,"fontWeight":"bold"},"encoding":{"x":{"datum":1,"type":"quantitative","scale":{"domain":[0,1]},"axis":null},"text":{"field":"w","type":"nominal"}}},
{"transform":[{"filter":"datum.kind=='group'"}],"mark":{"type":"rule","yOffset":11,"color":"#444","strokeWidth":2.5},"encoding":{"y":{"datum":"h2","type":"nominal"}}}]},
{"width":304,"height":278.4,"encoding":{"y":{"field":"row","type":"nominal","scale":{"type":"point","padding":0.5,"domain":["h1","h2","Ujiki 2006","Yu 2012","gap","total","het","test"]},"axis":null}},"layer":[
{"transform":[{"filter":"datum.kind=='study'"}],"mark":{"type":"text","align":"right","dx":-28},"encoding":{"x":{"datum":1,"type":"quantitative","scale":{"domain":[0,1]},"axis":null},"text":{"field":"ci","type":"nominal"}}},
{"transform":[{"filter":"datum.kind=='total'"}],"mark":{"type":"text","align":"right","dx":-28,"dy":-4,"fontWeight":"bold"},"encoding":{"x":{"datum":1,"type":"quantitative","scale":{"domain":[0,1]},"axis":null},"text":{"field":"ci","type":"nominal"}}},
{"transform":[{"filter":"datum.kind=='header'"}],"mark":{"type":"text","align":"right","dx":-16,"dy":-4,"fontWeight":"bold"},"encoding":{"x":{"datum":1,"type":"quantitative","scale":{"domain":[0,1]},"axis":null},"text":{"field":"ci","type":"nominal"}}},
{"transform":[{"filter":"datum.kind=='group'"}],"mark":{"type":"text","align":"center","dx":-11,"dy":-4,"fontWeight":"bold"},"encoding":{"x":{"datum":0.5,"type":"quantitative","scale":{"domain":[0,1]},"axis":null},"text":{"field":"ci","type":"nominal"}}},
{"transform":[{"filter":"datum.kind=='group'"}],"mark":{"type":"rule","yOffset":11,"color":"#444","strokeWidth":2.5},"encoding":{"y":{"datum":"h2","type":"nominal"}}}]},
{"width":658,"height":278.4,"encoding":{"y":{"field":"row","type":"nominal","scale":{"type":"point","padding":0.5,"domain":["h1","h2","Ujiki 2006","Yu 2012","gap","total","het","test"]},"axis":null}},"layer":[
{"transform":[{"filter":"datum.kind=='header'||datum.kind=='group'"}],"mark":{"type":"text","align":"center","dy":-4,"fontWeight":"bold"},"encoding":{"x":{"datum":0,"type":"quantitative","scale":{"domain":[-1.4,1.4],"nice":false}},"text":{"field":"ci","type":"nominal"}}},
{"transform":[{"filter":"datum.kind=='group'"}],"mark":{"type":"rule","yOffset":11,"color":"#444","strokeWidth":2.5},"encoding":{"y":{"datum":"h2","type":"nominal"}}},
{"transform":[{"filter":"datum.kind=='group'"}],"mark":{"type":"rule","color":"#333","strokeWidth":1.5,"yOffset":11,"y2Offset":-8},"encoding":{"x":{"datum":0,"type":"quantitative","scale":{"domain":[-1.4,1.4],"nice":false}},"y":{"datum":"h2","type":"nominal"},"y2":{"datum":"het"}}},
{"transform":[{"filter":"datum.kind=='group'"}],"mark":{"type":"rule","color":"#444","strokeWidth":2.5,"yOffset":-8},"encoding":{"y":{"datum":"het","type":"nominal"}}},
{"transform":[{"filter":"datum.kind=='study'"}],"mark":{"type":"rule","color":"#4d4d4d","strokeWidth":2.5,"yOffset":-5},"encoding":{"x":{"field":"lo","type":"quantitative","scale":{"domain":[-1.4,1.4],"nice":false}},"x2":{"field":"hi"}}},
{"transform":[{"filter":"datum.kind=='study'"}],"mark":{"type":"point","shape":"square","filled":true,"color":"#4dbd44","opacity":1,"strokeWidth":0,"yOffset":-5},"encoding":{"x":{"field":"est","type":"quantitative","scale":{"domain":[-1.4,1.4],"nice":false},"axis":{"orient":"bottom","offset":-68,"values":[-1,-0.5,0,0.5,1],"format":"~g","labelExpr":"replace(datum.label,'−','-')","domain":false,"grid":false,"tickSize":16,"tickWidth":2,"tickColor":"#444","labelFontSize":26,"labelColor":"#444","labelFont":"Liberation Sans","labelPadding":3,"labelFlush":false,"labelOverlap":false,"title":null}},"size":{"field":"wt","type":"quantitative","scale":{"type":"pow","exponent":2,"domain":[0,1],"range":[16,2049]},"legend":null}}},
{"transform":[{"filter":"datum.kind=='total'"},{"fold":["lo","est","hi"]}],"mark":{"type":"area","orient":"vertical","color":"#000","opacity":1,"yOffset":{"expr":"datum.key=='est' ? -23 : -8"},"y2Offset":{"expr":"datum.key=='est' ? 7 : -8"}},"encoding":{"x":{"field":"value","type":"quantitative","stack":null,"scale":{"domain":[-1.4,1.4],"nice":false}},"y":{"datum":"total","type":"nominal"},"y2":{"datum":"total"}}},
{"transform":[{"filter":"datum.kind=='group'"}],"mark":{"type":"text","align":"right","dx":-9,"dy":10,"color":"#555"},"encoding":{"x":{"datum":0,"type":"quantitative","scale":{"domain":[-1.4,1.4],"nice":false}},"y":{"datum":"test","type":"nominal"},"text":{"field":"fl","type":"nominal"}}},
{"transform":[{"filter":"datum.kind=='group'"}],"mark":{"type":"text","align":"left","dx":12,"dy":10,"color":"#555"},"encoding":{"x":{"datum":0,"type":"quantitative","scale":{"domain":[-1.4,1.4],"nice":false}},"y":{"datum":"test","type":"nominal"},"text":{"field":"fr","type":"nominal"}}}]},
{"width":29,"height":278.4,"encoding":{"y":{"field":"row","type":"nominal","scale":{"type":"point","padding":0.5,"domain":["h1","h2","Ujiki 2006","Yu 2012","gap","total","het","test"]},"axis":null}},"layer":[
{"transform":[{"filter":"datum.kind=='group'"}],"mark":{"type":"rule","yOffset":11,"color":"#444","strokeWidth":2.5},"encoding":{"y":{"datum":"h2","type":"nominal"}}}]}
]},
{"data":{"name":"rows"},"transform":[{"filter":"datum.p=='D'"}],"spacing":0,"bounds":"flush","hconcat":[
{"width":37,"height":313.2,"encoding":{"y":{"field":"row","type":"nominal","scale":{"type":"point","padding":0.5,"domain":["h1","h2","Ahn 2020","Kasemsiri 2020","Perez-Soto 2019","gap","total","het","test"]},"axis":null}},"layer":[
{"transform":[{"filter":"datum.kind=='group'"}],"mark":{"type":"text","align":"left","fontWeight":"bold","fontSize":26,"dy":5,"color":"#000"},"encoding":{"x":{"datum":0,"type":"quantitative","scale":{"domain":[0,1]},"axis":null},"text":{"field":"letter","type":"nominal"}}}]},
{"width":283,"height":313.2,"encoding":{"y":{"field":"row","type":"nominal","scale":{"type":"point","padding":0.5,"domain":["h1","h2","Ahn 2020","Kasemsiri 2020","Perez-Soto 2019","gap","total","het","test"]},"axis":null}},"layer":[
{"transform":[{"filter":"datum.kind=='study'||datum.kind=='note'"}],"mark":{"type":"text","align":"left","dx":20},"encoding":{"x":{"datum":0,"type":"quantitative","scale":{"domain":[0,1]},"axis":null},"text":{"field":"name","type":"nominal"}}},
{"transform":[{"filter":"datum.kind=='header'||datum.kind=='total'"}],"mark":{"type":"text","align":"left","dx":20,"dy":-4,"fontWeight":"bold"},"encoding":{"x":{"datum":0,"type":"quantitative","scale":{"domain":[0,1]},"axis":null},"text":{"field":"name","type":"nominal"}}},
{"transform":[{"filter":"datum.kind=='group'"}],"mark":{"type":"rule","yOffset":11,"color":"#444","strokeWidth":2.5},"encoding":{"y":{"datum":"h2","type":"nominal"}}}]},
{"width":77,"height":313.2,"encoding":{"y":{"field":"row","type":"nominal","scale":{"type":"point","padding":0.5,"domain":["h1","h2","Ahn 2020","Kasemsiri 2020","Perez-Soto 2019","gap","total","het","test"]},"axis":null}},"layer":[
{"transform":[{"filter":"datum.kind=='study'"}],"mark":{"type":"text","align":"right"},"encoding":{"x":{"datum":1,"type":"quantitative","scale":{"domain":[0,1]},"axis":null},"text":{"field":"m1","type":"quantitative"}}},
{"transform":[{"filter":"datum.kind=='header'"}],"mark":{"type":"text","align":"right","dy":-4,"fontWeight":"bold"},"encoding":{"x":{"datum":1,"type":"quantitative","scale":{"domain":[0,1]},"axis":null},"text":{"field":"m1","type":"nominal"}}},
{"transform":[{"filter":"datum.kind=='group'"}],"mark":{"type":"rule","yOffset":11,"color":"#444","strokeWidth":2.5},"encoding":{"y":{"datum":"h2","type":"nominal"}}}]},
{"width":61,"height":313.2,"encoding":{"y":{"field":"row","type":"nominal","scale":{"type":"point","padding":0.5,"domain":["h1","h2","Ahn 2020","Kasemsiri 2020","Perez-Soto 2019","gap","total","het","test"]},"axis":null}},"layer":[
{"transform":[{"filter":"datum.kind=='study'"}],"mark":{"type":"text","align":"right"},"encoding":{"x":{"datum":1,"type":"quantitative","scale":{"domain":[0,1]},"axis":null},"text":{"field":"sd1","type":"quantitative"}}},
{"transform":[{"filter":"datum.kind=='header'"}],"mark":{"type":"text","align":"right","dy":-4,"fontWeight":"bold"},"encoding":{"x":{"datum":1,"type":"quantitative","scale":{"domain":[0,1]},"axis":null},"text":{"field":"sd1","type":"nominal"}}},
{"transform":[{"filter":"datum.kind=='group'"}],"mark":{"type":"text","align":"center","dy":-4,"fontWeight":"bold"},"encoding":{"x":{"datum":0.5,"type":"quantitative","scale":{"domain":[0,1]},"axis":null},"text":{"field":"sd1","type":"nominal"}}},
{"transform":[{"filter":"datum.kind=='group'"}],"mark":{"type":"rule","yOffset":11,"color":"#444","strokeWidth":2.5},"encoding":{"y":{"datum":"h2","type":"nominal"}}}]},
{"width":82,"height":313.2,"encoding":{"y":{"field":"row","type":"nominal","scale":{"type":"point","padding":0.5,"domain":["h1","h2","Ahn 2020","Kasemsiri 2020","Perez-Soto 2019","gap","total","het","test"]},"axis":null}},"layer":[
{"transform":[{"filter":"datum.kind=='study'"}],"mark":{"type":"text","align":"right"},"encoding":{"x":{"datum":1,"type":"quantitative","scale":{"domain":[0,1]},"axis":null},"text":{"field":"n1","type":"quantitative"}}},
{"transform":[{"filter":"datum.kind=='header'||datum.kind=='total'"}],"mark":{"type":"text","align":"right","dy":-4,"fontWeight":"bold"},"encoding":{"x":{"datum":1,"type":"quantitative","scale":{"domain":[0,1]},"axis":null},"text":{"field":"n1","type":"nominal"}}},
{"transform":[{"filter":"datum.kind=='group'"}],"mark":{"type":"rule","yOffset":11,"color":"#444","strokeWidth":2.5},"encoding":{"y":{"datum":"h2","type":"nominal"}}}]},
{"width":87,"height":313.2,"encoding":{"y":{"field":"row","type":"nominal","scale":{"type":"point","padding":0.5,"domain":["h1","h2","Ahn 2020","Kasemsiri 2020","Perez-Soto 2019","gap","total","het","test"]},"axis":null}},"layer":[
{"transform":[{"filter":"datum.kind=='study'"}],"mark":{"type":"text","align":"right"},"encoding":{"x":{"datum":1,"type":"quantitative","scale":{"domain":[0,1]},"axis":null},"text":{"field":"m2","type":"quantitative"}}},
{"transform":[{"filter":"datum.kind=='header'"}],"mark":{"type":"text","align":"right","dy":-4,"fontWeight":"bold"},"encoding":{"x":{"datum":1,"type":"quantitative","scale":{"domain":[0,1]},"axis":null},"text":{"field":"m2","type":"nominal"}}},
{"transform":[{"filter":"datum.kind=='group'"}],"mark":{"type":"rule","yOffset":11,"color":"#444","strokeWidth":2.5},"encoding":{"y":{"datum":"h2","type":"nominal"}}}]},
{"width":90,"height":313.2,"encoding":{"y":{"field":"row","type":"nominal","scale":{"type":"point","padding":0.5,"domain":["h1","h2","Ahn 2020","Kasemsiri 2020","Perez-Soto 2019","gap","total","het","test"]},"axis":null}},"layer":[
{"transform":[{"filter":"datum.kind=='study'"}],"mark":{"type":"text","align":"right"},"encoding":{"x":{"datum":1,"type":"quantitative","scale":{"domain":[0,1]},"axis":null},"text":{"field":"sd2","type":"quantitative"}}},
{"transform":[{"filter":"datum.kind=='header'"}],"mark":{"type":"text","align":"right","dy":-4,"fontWeight":"bold"},"encoding":{"x":{"datum":1,"type":"quantitative","scale":{"domain":[0,1]},"axis":null},"text":{"field":"sd2","type":"nominal"}}},
{"transform":[{"filter":"datum.kind=='group'"}],"mark":{"type":"text","align":"center","dy":-4,"fontWeight":"bold"},"encoding":{"x":{"datum":0.5,"type":"quantitative","scale":{"domain":[0,1]},"axis":null},"text":{"field":"sd2","type":"nominal"}}},
{"transform":[{"filter":"datum.kind=='group'"}],"mark":{"type":"rule","yOffset":11,"color":"#444","strokeWidth":2.5},"encoding":{"y":{"datum":"h2","type":"nominal"}}}]},
{"width":91,"height":313.2,"encoding":{"y":{"field":"row","type":"nominal","scale":{"type":"point","padding":0.5,"domain":["h1","h2","Ahn 2020","Kasemsiri 2020","Perez-Soto 2019","gap","total","het","test"]},"axis":null}},"layer":[
{"transform":[{"filter":"datum.kind=='study'"}],"mark":{"type":"text","align":"right"},"encoding":{"x":{"datum":1,"type":"quantitative","scale":{"domain":[0,1]},"axis":null},"text":{"field":"n2","type":"quantitative"}}},
{"transform":[{"filter":"datum.kind=='header'||datum.kind=='total'"}],"mark":{"type":"text","align":"right","dy":-4,"fontWeight":"bold"},"encoding":{"x":{"datum":1,"type":"quantitative","scale":{"domain":[0,1]},"axis":null},"text":{"field":"n2","type":"nominal"}}},
{"transform":[{"filter":"datum.kind=='group'"}],"mark":{"type":"rule","yOffset":11,"color":"#444","strokeWidth":2.5},"encoding":{"y":{"datum":"h2","type":"nominal"}}}]},
{"width":107,"height":313.2,"encoding":{"y":{"field":"row","type":"nominal","scale":{"type":"point","padding":0.5,"domain":["h1","h2","Ahn 2020","Kasemsiri 2020","Perez-Soto 2019","gap","total","het","test"]},"axis":null}},"layer":[
{"transform":[{"filter":"datum.kind=='study'"}],"mark":{"type":"text","align":"right"},"encoding":{"x":{"datum":1,"type":"quantitative","scale":{"domain":[0,1]},"axis":null},"text":{"field":"wt","type":"quantitative","format":".1%"}}},
{"transform":[{"filter":"datum.kind=='total'"}],"mark":{"type":"text","align":"right","dy":-4,"fontWeight":"bold"},"encoding":{"x":{"datum":1,"type":"quantitative","scale":{"domain":[0,1]},"axis":null},"text":{"field":"wt","type":"quantitative","format":".1%"}}},
{"transform":[{"filter":"datum.kind=='header'"}],"mark":{"type":"text","align":"right","dy":-4,"fontWeight":"bold"},"encoding":{"x":{"datum":1,"type":"quantitative","scale":{"domain":[0,1]},"axis":null},"text":{"field":"w","type":"nominal"}}},
{"transform":[{"filter":"datum.kind=='group'"}],"mark":{"type":"rule","yOffset":11,"color":"#444","strokeWidth":2.5},"encoding":{"y":{"datum":"h2","type":"nominal"}}}]},
{"width":301,"height":313.2,"encoding":{"y":{"field":"row","type":"nominal","scale":{"type":"point","padding":0.5,"domain":["h1","h2","Ahn 2020","Kasemsiri 2020","Perez-Soto 2019","gap","total","het","test"]},"axis":null}},"layer":[
{"transform":[{"filter":"datum.kind=='study'"}],"mark":{"type":"text","align":"right","dx":-24},"encoding":{"x":{"datum":1,"type":"quantitative","scale":{"domain":[0,1]},"axis":null},"text":{"field":"ci","type":"nominal"}}},
{"transform":[{"filter":"datum.kind=='total'"}],"mark":{"type":"text","align":"right","dx":-24,"dy":-4,"fontWeight":"bold"},"encoding":{"x":{"datum":1,"type":"quantitative","scale":{"domain":[0,1]},"axis":null},"text":{"field":"ci","type":"nominal"}}},
{"transform":[{"filter":"datum.kind=='header'"}],"mark":{"type":"text","align":"right","dx":-16,"dy":-4,"fontWeight":"bold"},"encoding":{"x":{"datum":1,"type":"quantitative","scale":{"domain":[0,1]},"axis":null},"text":{"field":"ci","type":"nominal"}}},
{"transform":[{"filter":"datum.kind=='group'"}],"mark":{"type":"text","align":"center","dx":-11,"dy":-4,"fontWeight":"bold"},"encoding":{"x":{"datum":0.5,"type":"quantitative","scale":{"domain":[0,1]},"axis":null},"text":{"field":"ci","type":"nominal"}}},
{"transform":[{"filter":"datum.kind=='group'"}],"mark":{"type":"rule","yOffset":11,"color":"#444","strokeWidth":2.5},"encoding":{"y":{"datum":"h2","type":"nominal"}}}]},
{"width":679,"height":313.2,"encoding":{"y":{"field":"row","type":"nominal","scale":{"type":"point","padding":0.5,"domain":["h1","h2","Ahn 2020","Kasemsiri 2020","Perez-Soto 2019","gap","total","het","test"]},"axis":null}},"layer":[
{"transform":[{"filter":"datum.kind=='header'||datum.kind=='group'"}],"mark":{"type":"text","align":"center","dy":-4,"fontWeight":"bold"},"encoding":{"x":{"datum":0,"type":"quantitative","scale":{"domain":[-6.12,6.12],"nice":false}},"text":{"field":"ci","type":"nominal"}}},
{"transform":[{"filter":"datum.kind=='group'"}],"mark":{"type":"rule","yOffset":11,"color":"#444","strokeWidth":2.5},"encoding":{"y":{"datum":"h2","type":"nominal"}}},
{"transform":[{"filter":"datum.kind=='group'"}],"mark":{"type":"rule","color":"#333","strokeWidth":1.5,"yOffset":11,"y2Offset":-8},"encoding":{"x":{"datum":0,"type":"quantitative","scale":{"domain":[-6.12,6.12],"nice":false}},"y":{"datum":"h2","type":"nominal"},"y2":{"datum":"het"}}},
{"transform":[{"filter":"datum.kind=='group'"}],"mark":{"type":"rule","color":"#444","strokeWidth":2.5,"yOffset":-8},"encoding":{"y":{"datum":"het","type":"nominal"}}},
{"transform":[{"filter":"datum.kind=='study'"}],"mark":{"type":"rule","color":"#4d4d4d","strokeWidth":2.5,"yOffset":-5},"encoding":{"x":{"field":"lo","type":"quantitative","scale":{"domain":[-6.12,6.12],"nice":false}},"x2":{"field":"hi"}}},
{"transform":[{"filter":"datum.kind=='study'"}],"mark":{"type":"point","shape":"square","filled":true,"color":"#4dbd44","opacity":1,"strokeWidth":0,"yOffset":-5},"encoding":{"x":{"field":"est","type":"quantitative","scale":{"domain":[-6.12,6.12],"nice":false},"axis":{"orient":"bottom","offset":-68,"values":[-4,-2,0,2,4],"format":"~g","labelExpr":"replace(datum.label,'−','-')","domain":false,"grid":false,"tickSize":16,"tickWidth":2,"tickColor":"#444","labelFontSize":26,"labelColor":"#444","labelFont":"Liberation Sans","labelPadding":3,"labelFlush":false,"labelOverlap":false,"title":null}},"size":{"field":"wt","type":"quantitative","scale":{"type":"pow","exponent":2,"domain":[0,1],"range":[16,2049]},"legend":null}}},
{"transform":[{"filter":"datum.kind=='total'"},{"fold":["lo","est","hi"]}],"mark":{"type":"area","orient":"vertical","color":"#000","opacity":1,"yOffset":{"expr":"datum.key=='est' ? -23 : -8"},"y2Offset":{"expr":"datum.key=='est' ? 7 : -8"}},"encoding":{"x":{"field":"value","type":"quantitative","stack":null,"scale":{"domain":[-6.12,6.12],"nice":false}},"y":{"datum":"total","type":"nominal"},"y2":{"datum":"total"}}},
{"transform":[{"filter":"datum.kind=='group'"}],"mark":{"type":"text","align":"right","dx":-9,"dy":10,"color":"#555"},"encoding":{"x":{"datum":0,"type":"quantitative","scale":{"domain":[-6.12,6.12],"nice":false}},"y":{"datum":"test","type":"nominal"},"text":{"field":"fl","type":"nominal"}}},
{"transform":[{"filter":"datum.kind=='group'"}],"mark":{"type":"text","align":"left","dx":12,"dy":10,"color":"#555"},"encoding":{"x":{"datum":0,"type":"quantitative","scale":{"domain":[-6.12,6.12],"nice":false}},"y":{"datum":"test","type":"nominal"},"text":{"field":"fr","type":"nominal"}}}]},
{"width":31,"height":313.2,"encoding":{"y":{"field":"row","type":"nominal","scale":{"type":"point","padding":0.5,"domain":["h1","h2","Ahn 2020","Kasemsiri 2020","Perez-Soto 2019","gap","total","het","test"]},"axis":null}},"layer":[
{"transform":[{"filter":"datum.kind=='group'"}],"mark":{"type":"rule","yOffset":11,"color":"#444","strokeWidth":2.5},"encoding":{"y":{"datum":"h2","type":"nominal"}}}]}
]},
{"data":{"name":"rows"},"transform":[{"filter":"datum.p=='E'"}],"spacing":0,"bounds":"flush","hconcat":[
{"width":37,"height":313.2,"encoding":{"y":{"field":"row","type":"nominal","scale":{"type":"point","padding":0.5,"domain":["h1","h2","Jantharapattana 2017","Jeong 2009","Kim 2017","gap","total","het","test"]},"axis":null}},"layer":[
{"transform":[{"filter":"datum.kind=='group'"}],"mark":{"type":"text","align":"left","fontWeight":"bold","fontSize":26,"dy":14,"color":"#000"},"encoding":{"x":{"datum":0,"type":"quantitative","scale":{"domain":[0,1]},"axis":null},"text":{"field":"letter","type":"nominal"}}}]},
{"width":293,"height":313.2,"encoding":{"y":{"field":"row","type":"nominal","scale":{"type":"point","padding":0.5,"domain":["h1","h2","Jantharapattana 2017","Jeong 2009","Kim 2017","gap","total","het","test"]},"axis":null}},"layer":[
{"transform":[{"filter":"datum.kind=='study'||datum.kind=='note'"}],"mark":{"type":"text","align":"left","dx":20},"encoding":{"x":{"datum":0,"type":"quantitative","scale":{"domain":[0,1]},"axis":null},"text":{"field":"name","type":"nominal"}}},
{"transform":[{"filter":"datum.kind=='header'||datum.kind=='total'"}],"mark":{"type":"text","align":"left","dx":20,"dy":-4,"fontWeight":"bold"},"encoding":{"x":{"datum":0,"type":"quantitative","scale":{"domain":[0,1]},"axis":null},"text":{"field":"name","type":"nominal"}}},
{"transform":[{"filter":"datum.kind=='group'"}],"mark":{"type":"rule","yOffset":11,"color":"#444","strokeWidth":2.5},"encoding":{"y":{"datum":"h2","type":"nominal"}}}]},
{"width":84,"height":313.2,"encoding":{"y":{"field":"row","type":"nominal","scale":{"type":"point","padding":0.5,"domain":["h1","h2","Jantharapattana 2017","Jeong 2009","Kim 2017","gap","total","het","test"]},"axis":null}},"layer":[
{"transform":[{"filter":"datum.kind=='study'"}],"mark":{"type":"text","align":"right"},"encoding":{"x":{"datum":1,"type":"quantitative","scale":{"domain":[0,1]},"axis":null},"text":{"field":"m1","type":"quantitative"}}},
{"transform":[{"filter":"datum.kind=='header'"}],"mark":{"type":"text","align":"right","dy":-4,"fontWeight":"bold"},"encoding":{"x":{"datum":1,"type":"quantitative","scale":{"domain":[0,1]},"axis":null},"text":{"field":"m1","type":"nominal"}}},
{"transform":[{"filter":"datum.kind=='group'"}],"mark":{"type":"rule","yOffset":11,"color":"#444","strokeWidth":2.5},"encoding":{"y":{"datum":"h2","type":"nominal"}}}]},
{"width":59,"height":313.2,"encoding":{"y":{"field":"row","type":"nominal","scale":{"type":"point","padding":0.5,"domain":["h1","h2","Jantharapattana 2017","Jeong 2009","Kim 2017","gap","total","het","test"]},"axis":null}},"layer":[
{"transform":[{"filter":"datum.kind=='study'"}],"mark":{"type":"text","align":"right"},"encoding":{"x":{"datum":1,"type":"quantitative","scale":{"domain":[0,1]},"axis":null},"text":{"field":"sd1","type":"quantitative"}}},
{"transform":[{"filter":"datum.kind=='header'"}],"mark":{"type":"text","align":"right","dy":-4,"fontWeight":"bold"},"encoding":{"x":{"datum":1,"type":"quantitative","scale":{"domain":[0,1]},"axis":null},"text":{"field":"sd1","type":"nominal"}}},
{"transform":[{"filter":"datum.kind=='group'"}],"mark":{"type":"text","align":"center","dy":-4,"fontWeight":"bold"},"encoding":{"x":{"datum":0.5,"type":"quantitative","scale":{"domain":[0,1]},"axis":null},"text":{"field":"sd1","type":"nominal"}}},
{"transform":[{"filter":"datum.kind=='group'"}],"mark":{"type":"rule","yOffset":11,"color":"#444","strokeWidth":2.5},"encoding":{"y":{"datum":"h2","type":"nominal"}}}]},
{"width":82,"height":313.2,"encoding":{"y":{"field":"row","type":"nominal","scale":{"type":"point","padding":0.5,"domain":["h1","h2","Jantharapattana 2017","Jeong 2009","Kim 2017","gap","total","het","test"]},"axis":null}},"layer":[
{"transform":[{"filter":"datum.kind=='study'"}],"mark":{"type":"text","align":"right"},"encoding":{"x":{"datum":1,"type":"quantitative","scale":{"domain":[0,1]},"axis":null},"text":{"field":"n1","type":"quantitative"}}},
{"transform":[{"filter":"datum.kind=='header'||datum.kind=='total'"}],"mark":{"type":"text","align":"right","dy":-4,"fontWeight":"bold"},"encoding":{"x":{"datum":1,"type":"quantitative","scale":{"domain":[0,1]},"axis":null},"text":{"field":"n1","type":"nominal"}}},
{"transform":[{"filter":"datum.kind=='group'"}],"mark":{"type":"rule","yOffset":11,"color":"#444","strokeWidth":2.5},"encoding":{"y":{"datum":"h2","type":"nominal"}}}]},
{"width":86,"height":313.2,"encoding":{"y":{"field":"row","type":"nominal","scale":{"type":"point","padding":0.5,"domain":["h1","h2","Jantharapattana 2017","Jeong 2009","Kim 2017","gap","total","het","test"]},"axis":null}},"layer":[
{"transform":[{"filter":"datum.kind=='study'"}],"mark":{"type":"text","align":"right"},"encoding":{"x":{"datum":1,"type":"quantitative","scale":{"domain":[0,1]},"axis":null},"text":{"field":"m2","type":"quantitative"}}},
{"transform":[{"filter":"datum.kind=='header'"}],"mark":{"type":"text","align":"right","dy":-4,"fontWeight":"bold"},"encoding":{"x":{"datum":1,"type":"quantitative","scale":{"domain":[0,1]},"axis":null},"text":{"field":"m2","type":"nominal"}}},
{"transform":[{"filter":"datum.kind=='group'"}],"mark":{"type":"rule","yOffset":11,"color":"#444","strokeWidth":2.5},"encoding":{"y":{"datum":"h2","type":"nominal"}}}]},
{"width":92,"height":313.2,"encoding":{"y":{"field":"row","type":"nominal","scale":{"type":"point","padding":0.5,"domain":["h1","h2","Jantharapattana 2017","Jeong 2009","Kim 2017","gap","total","het","test"]},"axis":null}},"layer":[
{"transform":[{"filter":"datum.kind=='study'"}],"mark":{"type":"text","align":"right"},"encoding":{"x":{"datum":1,"type":"quantitative","scale":{"domain":[0,1]},"axis":null},"text":{"field":"sd2","type":"quantitative"}}},
{"transform":[{"filter":"datum.kind=='header'"}],"mark":{"type":"text","align":"right","dy":-4,"fontWeight":"bold"},"encoding":{"x":{"datum":1,"type":"quantitative","scale":{"domain":[0,1]},"axis":null},"text":{"field":"sd2","type":"nominal"}}},
{"transform":[{"filter":"datum.kind=='group'"}],"mark":{"type":"text","align":"center","dy":-4,"fontWeight":"bold"},"encoding":{"x":{"datum":0.5,"type":"quantitative","scale":{"domain":[0,1]},"axis":null},"text":{"field":"sd2","type":"nominal"}}},
{"transform":[{"filter":"datum.kind=='group'"}],"mark":{"type":"rule","yOffset":11,"color":"#444","strokeWidth":2.5},"encoding":{"y":{"datum":"h2","type":"nominal"}}}]},
{"width":89,"height":313.2,"encoding":{"y":{"field":"row","type":"nominal","scale":{"type":"point","padding":0.5,"domain":["h1","h2","Jantharapattana 2017","Jeong 2009","Kim 2017","gap","total","het","test"]},"axis":null}},"layer":[
{"transform":[{"filter":"datum.kind=='study'"}],"mark":{"type":"text","align":"right"},"encoding":{"x":{"datum":1,"type":"quantitative","scale":{"domain":[0,1]},"axis":null},"text":{"field":"n2","type":"quantitative"}}},
{"transform":[{"filter":"datum.kind=='header'||datum.kind=='total'"}],"mark":{"type":"text","align":"right","dy":-4,"fontWeight":"bold"},"encoding":{"x":{"datum":1,"type":"quantitative","scale":{"domain":[0,1]},"axis":null},"text":{"field":"n2","type":"nominal"}}},
{"transform":[{"filter":"datum.kind=='group'"}],"mark":{"type":"rule","yOffset":11,"color":"#444","strokeWidth":2.5},"encoding":{"y":{"datum":"h2","type":"nominal"}}}]},
{"width":105,"height":313.2,"encoding":{"y":{"field":"row","type":"nominal","scale":{"type":"point","padding":0.5,"domain":["h1","h2","Jantharapattana 2017","Jeong 2009","Kim 2017","gap","total","het","test"]},"axis":null}},"layer":[
{"transform":[{"filter":"datum.kind=='study'"}],"mark":{"type":"text","align":"right"},"encoding":{"x":{"datum":1,"type":"quantitative","scale":{"domain":[0,1]},"axis":null},"text":{"field":"wt","type":"quantitative","format":".1%"}}},
{"transform":[{"filter":"datum.kind=='total'"}],"mark":{"type":"text","align":"right","dy":-4,"fontWeight":"bold"},"encoding":{"x":{"datum":1,"type":"quantitative","scale":{"domain":[0,1]},"axis":null},"text":{"field":"wt","type":"quantitative","format":".1%"}}},
{"transform":[{"filter":"datum.kind=='header'"}],"mark":{"type":"text","align":"right","dy":-4,"fontWeight":"bold"},"encoding":{"x":{"datum":1,"type":"quantitative","scale":{"domain":[0,1]},"axis":null},"text":{"field":"w","type":"nominal"}}},
{"transform":[{"filter":"datum.kind=='group'"}],"mark":{"type":"rule","yOffset":11,"color":"#444","strokeWidth":2.5},"encoding":{"y":{"datum":"h2","type":"nominal"}}}]},
{"width":303,"height":313.2,"encoding":{"y":{"field":"row","type":"nominal","scale":{"type":"point","padding":0.5,"domain":["h1","h2","Jantharapattana 2017","Jeong 2009","Kim 2017","gap","total","het","test"]},"axis":null}},"layer":[
{"transform":[{"filter":"datum.kind=='study'"}],"mark":{"type":"text","align":"right","dx":-27},"encoding":{"x":{"datum":1,"type":"quantitative","scale":{"domain":[0,1]},"axis":null},"text":{"field":"ci","type":"nominal"}}},
{"transform":[{"filter":"datum.kind=='total'"}],"mark":{"type":"text","align":"right","dx":-27,"dy":-4,"fontWeight":"bold"},"encoding":{"x":{"datum":1,"type":"quantitative","scale":{"domain":[0,1]},"axis":null},"text":{"field":"ci","type":"nominal"}}},
{"transform":[{"filter":"datum.kind=='header'"}],"mark":{"type":"text","align":"right","dx":-16,"dy":-4,"fontWeight":"bold"},"encoding":{"x":{"datum":1,"type":"quantitative","scale":{"domain":[0,1]},"axis":null},"text":{"field":"ci","type":"nominal"}}},
{"transform":[{"filter":"datum.kind=='group'"}],"mark":{"type":"text","align":"center","dx":-11,"dy":-4,"fontWeight":"bold"},"encoding":{"x":{"datum":0.5,"type":"quantitative","scale":{"domain":[0,1]},"axis":null},"text":{"field":"ci","type":"nominal"}}},
{"transform":[{"filter":"datum.kind=='group'"}],"mark":{"type":"rule","yOffset":11,"color":"#444","strokeWidth":2.5},"encoding":{"y":{"datum":"h2","type":"nominal"}}}]},
{"width":667,"height":313.2,"encoding":{"y":{"field":"row","type":"nominal","scale":{"type":"point","padding":0.5,"domain":["h1","h2","Jantharapattana 2017","Jeong 2009","Kim 2017","gap","total","het","test"]},"axis":null}},"layer":[
{"transform":[{"filter":"datum.kind=='header'||datum.kind=='group'"}],"mark":{"type":"text","align":"center","dy":-4,"fontWeight":"bold"},"encoding":{"x":{"datum":0,"type":"quantitative","scale":{"domain":[-14.64,14.64],"nice":false}},"text":{"field":"ci","type":"nominal"}}},
{"transform":[{"filter":"datum.kind=='group'"}],"mark":{"type":"rule","yOffset":11,"color":"#444","strokeWidth":2.5},"encoding":{"y":{"datum":"h2","type":"nominal"}}},
{"transform":[{"filter":"datum.kind=='group'"}],"mark":{"type":"rule","color":"#333","strokeWidth":1.5,"yOffset":11,"y2Offset":-8},"encoding":{"x":{"datum":0,"type":"quantitative","scale":{"domain":[-14.64,14.64],"nice":false}},"y":{"datum":"h2","type":"nominal"},"y2":{"datum":"het"}}},
{"transform":[{"filter":"datum.kind=='group'"}],"mark":{"type":"rule","color":"#444","strokeWidth":2.5,"yOffset":-8},"encoding":{"y":{"datum":"het","type":"nominal"}}},
{"transform":[{"filter":"datum.kind=='study'"}],"mark":{"type":"rule","color":"#4d4d4d","strokeWidth":2.5,"yOffset":-5},"encoding":{"x":{"field":"lo","type":"quantitative","scale":{"domain":[-14.64,14.64],"nice":false}},"x2":{"field":"hi"}}},
{"transform":[{"filter":"datum.kind=='study'"}],"mark":{"type":"point","shape":"square","filled":true,"color":"#4dbd44","opacity":1,"strokeWidth":0,"yOffset":-5},"encoding":{"x":{"field":"est","type":"quantitative","scale":{"domain":[-14.64,14.64],"nice":false},"axis":{"orient":"bottom","offset":-68,"values":[-10,-5,0,5,10],"format":"~g","labelExpr":"replace(datum.label,'−','-')","domain":false,"grid":false,"tickSize":16,"tickWidth":2,"tickColor":"#444","labelFontSize":26,"labelColor":"#444","labelFont":"Liberation Sans","labelPadding":3,"labelFlush":false,"labelOverlap":false,"title":null}},"size":{"field":"wt","type":"quantitative","scale":{"type":"pow","exponent":2,"domain":[0,1],"range":[16,2049]},"legend":null}}},
{"transform":[{"filter":"datum.kind=='total'"},{"fold":["lo","est","hi"]}],"mark":{"type":"area","orient":"vertical","color":"#000","opacity":1,"yOffset":{"expr":"datum.key=='est' ? -23 : -8"},"y2Offset":{"expr":"datum.key=='est' ? 7 : -8"}},"encoding":{"x":{"field":"value","type":"quantitative","stack":null,"scale":{"domain":[-14.64,14.64],"nice":false}},"y":{"datum":"total","type":"nominal"},"y2":{"datum":"total"}}},
{"transform":[{"filter":"datum.kind=='group'"}],"mark":{"type":"text","align":"right","dx":-9,"dy":10,"color":"#555"},"encoding":{"x":{"datum":0,"type":"quantitative","scale":{"domain":[-14.64,14.64],"nice":false}},"y":{"datum":"test","type":"nominal"},"text":{"field":"fl","type":"nominal"}}},
{"transform":[{"filter":"datum.kind=='group'"}],"mark":{"type":"text","align":"left","dx":12,"dy":10,"color":"#555"},"encoding":{"x":{"datum":0,"type":"quantitative","scale":{"domain":[-14.64,14.64],"nice":false}},"y":{"datum":"test","type":"nominal"},"text":{"field":"fr","type":"nominal"}}}]},
{"width":29,"height":313.2,"encoding":{"y":{"field":"row","type":"nominal","scale":{"type":"point","padding":0.5,"domain":["h1","h2","Jantharapattana 2017","Jeong 2009","Kim 2017","gap","total","het","test"]},"axis":null}},"layer":[
{"transform":[{"filter":"datum.kind=='group'"}],"mark":{"type":"rule","yOffset":11,"color":"#444","strokeWidth":2.5},"encoding":{"y":{"datum":"h2","type":"nominal"}}}]}
]},
{"data":{"name":"rows"},"transform":[{"filter":"datum.p=='F'"}],"spacing":0,"bounds":"flush","hconcat":[
{"width":37,"height":382.8,"encoding":{"y":{"field":"row","type":"nominal","scale":{"type":"point","padding":0.5,"domain":["h1","h2","Aliyev 2012","Gartska 2018","Landry 2011","Lee 2014","Noureldine 2013","gap","total","het","test"]},"axis":null}},"layer":[
{"transform":[{"filter":"datum.kind=='group'"}],"mark":{"type":"text","align":"left","fontWeight":"bold","fontSize":26,"dy":-1,"color":"#000"},"encoding":{"x":{"datum":0,"type":"quantitative","scale":{"domain":[0,1]},"axis":null},"text":{"field":"letter","type":"nominal"}}}]},
{"width":283,"height":382.8,"encoding":{"y":{"field":"row","type":"nominal","scale":{"type":"point","padding":0.5,"domain":["h1","h2","Aliyev 2012","Gartska 2018","Landry 2011","Lee 2014","Noureldine 2013","gap","total","het","test"]},"axis":null}},"layer":[
{"transform":[{"filter":"datum.kind=='study'||datum.kind=='note'"}],"mark":{"type":"text","align":"left","dx":20},"encoding":{"x":{"datum":0,"type":"quantitative","scale":{"domain":[0,1]},"axis":null},"text":{"field":"name","type":"nominal"}}},
{"transform":[{"filter":"datum.kind=='header'||datum.kind=='total'"}],"mark":{"type":"text","align":"left","dx":20,"dy":-4,"fontWeight":"bold"},"encoding":{"x":{"datum":0,"type":"quantitative","scale":{"domain":[0,1]},"axis":null},"text":{"field":"name","type":"nominal"}}},
{"transform":[{"filter":"datum.kind=='group'"}],"mark":{"type":"rule","yOffset":11,"color":"#444","strokeWidth":2.5},"encoding":{"y":{"datum":"h2","type":"nominal"}}}]},
{"width":85,"height":382.8,"encoding":{"y":{"field":"row","type":"nominal","scale":{"type":"point","padding":0.5,"domain":["h1","h2","Aliyev 2012","Gartska 2018","Landry 2011","Lee 2014","Noureldine 2013","gap","total","het","test"]},"axis":null}},"layer":[
{"transform":[{"filter":"datum.kind=='study'"}],"mark":{"type":"text","align":"right"},"encoding":{"x":{"datum":1,"type":"quantitative","scale":{"domain":[0,1]},"axis":null},"text":{"field":"m1","type":"quantitative"}}},
{"transform":[{"filter":"datum.kind=='header'"}],"mark":{"type":"text","align":"right","dy":-4,"fontWeight":"bold"},"encoding":{"x":{"datum":1,"type":"quantitative","scale":{"domain":[0,1]},"axis":null},"text":{"field":"m1","type":"nominal"}}},
{"transform":[{"filter":"datum.kind=='group'"}],"mark":{"type":"rule","yOffset":11,"color":"#444","strokeWidth":2.5},"encoding":{"y":{"datum":"h2","type":"nominal"}}}]},
{"width":60,"height":382.8,"encoding":{"y":{"field":"row","type":"nominal","scale":{"type":"point","padding":0.5,"domain":["h1","h2","Aliyev 2012","Gartska 2018","Landry 2011","Lee 2014","Noureldine 2013","gap","total","het","test"]},"axis":null}},"layer":[
{"transform":[{"filter":"datum.kind=='study'"}],"mark":{"type":"text","align":"right"},"encoding":{"x":{"datum":1,"type":"quantitative","scale":{"domain":[0,1]},"axis":null},"text":{"field":"sd1","type":"quantitative"}}},
{"transform":[{"filter":"datum.kind=='header'"}],"mark":{"type":"text","align":"right","dy":-4,"fontWeight":"bold"},"encoding":{"x":{"datum":1,"type":"quantitative","scale":{"domain":[0,1]},"axis":null},"text":{"field":"sd1","type":"nominal"}}},
{"transform":[{"filter":"datum.kind=='group'"}],"mark":{"type":"text","align":"center","dy":-4,"fontWeight":"bold"},"encoding":{"x":{"datum":0.5,"type":"quantitative","scale":{"domain":[0,1]},"axis":null},"text":{"field":"sd1","type":"nominal"}}},
{"transform":[{"filter":"datum.kind=='group'"}],"mark":{"type":"rule","yOffset":11,"color":"#444","strokeWidth":2.5},"encoding":{"y":{"datum":"h2","type":"nominal"}}}]},
{"width":84,"height":382.8,"encoding":{"y":{"field":"row","type":"nominal","scale":{"type":"point","padding":0.5,"domain":["h1","h2","Aliyev 2012","Gartska 2018","Landry 2011","Lee 2014","Noureldine 2013","gap","total","het","test"]},"axis":null}},"layer":[
{"transform":[{"filter":"datum.kind=='study'"}],"mark":{"type":"text","align":"right"},"encoding":{"x":{"datum":1,"type":"quantitative","scale":{"domain":[0,1]},"axis":null},"text":{"field":"n1","type":"quantitative"}}},
{"transform":[{"filter":"datum.kind=='header'||datum.kind=='total'"}],"mark":{"type":"text","align":"right","dy":-4,"fontWeight":"bold"},"encoding":{"x":{"datum":1,"type":"quantitative","scale":{"domain":[0,1]},"axis":null},"text":{"field":"n1","type":"nominal"}}},
{"transform":[{"filter":"datum.kind=='group'"}],"mark":{"type":"rule","yOffset":11,"color":"#444","strokeWidth":2.5},"encoding":{"y":{"datum":"h2","type":"nominal"}}}]},
{"width":88,"height":382.8,"encoding":{"y":{"field":"row","type":"nominal","scale":{"type":"point","padding":0.5,"domain":["h1","h2","Aliyev 2012","Gartska 2018","Landry 2011","Lee 2014","Noureldine 2013","gap","total","het","test"]},"axis":null}},"layer":[
{"transform":[{"filter":"datum.kind=='study'"}],"mark":{"type":"text","align":"right"},"encoding":{"x":{"datum":1,"type":"quantitative","scale":{"domain":[0,1]},"axis":null},"text":{"field":"m2","type":"quantitative"}}},
{"transform":[{"filter":"datum.kind=='header'"}],"mark":{"type":"text","align":"right","dy":-4,"fontWeight":"bold"},"encoding":{"x":{"datum":1,"type":"quantitative","scale":{"domain":[0,1]},"axis":null},"text":{"field":"m2","type":"nominal"}}},
{"transform":[{"filter":"datum.kind=='group'"}],"mark":{"type":"rule","yOffset":11,"color":"#444","strokeWidth":2.5},"encoding":{"y":{"datum":"h2","type":"nominal"}}}]},
{"width":92,"height":382.8,"encoding":{"y":{"field":"row","type":"nominal","scale":{"type":"point","padding":0.5,"domain":["h1","h2","Aliyev 2012","Gartska 2018","Landry 2011","Lee 2014","Noureldine 2013","gap","total","het","test"]},"axis":null}},"layer":[
{"transform":[{"filter":"datum.kind=='study'"}],"mark":{"type":"text","align":"right"},"encoding":{"x":{"datum":1,"type":"quantitative","scale":{"domain":[0,1]},"axis":null},"text":{"field":"sd2","type":"quantitative"}}},
{"transform":[{"filter":"datum.kind=='header'"}],"mark":{"type":"text","align":"right","dy":-4,"fontWeight":"bold"},"encoding":{"x":{"datum":1,"type":"quantitative","scale":{"domain":[0,1]},"axis":null},"text":{"field":"sd2","type":"nominal"}}},
{"transform":[{"filter":"datum.kind=='group'"}],"mark":{"type":"text","align":"center","dy":-4,"fontWeight":"bold"},"encoding":{"x":{"datum":0.5,"type":"quantitative","scale":{"domain":[0,1]},"axis":null},"text":{"field":"sd2","type":"nominal"}}},
{"transform":[{"filter":"datum.kind=='group'"}],"mark":{"type":"rule","yOffset":11,"color":"#444","strokeWidth":2.5},"encoding":{"y":{"datum":"h2","type":"nominal"}}}]},
{"width":90,"height":382.8,"encoding":{"y":{"field":"row","type":"nominal","scale":{"type":"point","padding":0.5,"domain":["h1","h2","Aliyev 2012","Gartska 2018","Landry 2011","Lee 2014","Noureldine 2013","gap","total","het","test"]},"axis":null}},"layer":[
{"transform":[{"filter":"datum.kind=='study'"}],"mark":{"type":"text","align":"right"},"encoding":{"x":{"datum":1,"type":"quantitative","scale":{"domain":[0,1]},"axis":null},"text":{"field":"n2","type":"quantitative"}}},
{"transform":[{"filter":"datum.kind=='header'||datum.kind=='total'"}],"mark":{"type":"text","align":"right","dy":-4,"fontWeight":"bold"},"encoding":{"x":{"datum":1,"type":"quantitative","scale":{"domain":[0,1]},"axis":null},"text":{"field":"n2","type":"nominal"}}},
{"transform":[{"filter":"datum.kind=='group'"}],"mark":{"type":"rule","yOffset":11,"color":"#444","strokeWidth":2.5},"encoding":{"y":{"datum":"h2","type":"nominal"}}}]},
{"width":110,"height":382.8,"encoding":{"y":{"field":"row","type":"nominal","scale":{"type":"point","padding":0.5,"domain":["h1","h2","Aliyev 2012","Gartska 2018","Landry 2011","Lee 2014","Noureldine 2013","gap","total","het","test"]},"axis":null}},"layer":[
{"transform":[{"filter":"datum.kind=='study'"}],"mark":{"type":"text","align":"right"},"encoding":{"x":{"datum":1,"type":"quantitative","scale":{"domain":[0,1]},"axis":null},"text":{"field":"wt","type":"quantitative","format":".1%"}}},
{"transform":[{"filter":"datum.kind=='total'"}],"mark":{"type":"text","align":"right","dy":-4,"fontWeight":"bold"},"encoding":{"x":{"datum":1,"type":"quantitative","scale":{"domain":[0,1]},"axis":null},"text":{"field":"wt","type":"quantitative","format":".1%"}}},
{"transform":[{"filter":"datum.kind=='header'"}],"mark":{"type":"text","align":"right","dy":-4,"fontWeight":"bold"},"encoding":{"x":{"datum":1,"type":"quantitative","scale":{"domain":[0,1]},"axis":null},"text":{"field":"w","type":"nominal"}}},
{"transform":[{"filter":"datum.kind=='group'"}],"mark":{"type":"rule","yOffset":11,"color":"#444","strokeWidth":2.5},"encoding":{"y":{"datum":"h2","type":"nominal"}}}]},
{"width":306,"height":382.8,"encoding":{"y":{"field":"row","type":"nominal","scale":{"type":"point","padding":0.5,"domain":["h1","h2","Aliyev 2012","Gartska 2018","Landry 2011","Lee 2014","Noureldine 2013","gap","total","het","test"]},"axis":null}},"layer":[
{"transform":[{"filter":"datum.kind=='study'"}],"mark":{"type":"text","align":"right","dx":-28},"encoding":{"x":{"datum":1,"type":"quantitative","scale":{"domain":[0,1]},"axis":null},"text":{"field":"ci","type":"nominal"}}},
{"transform":[{"filter":"datum.kind=='total'"}],"mark":{"type":"text","align":"right","dx":-28,"dy":-4,"fontWeight":"bold"},"encoding":{"x":{"datum":1,"type":"quantitative","scale":{"domain":[0,1]},"axis":null},"text":{"field":"ci","type":"nominal"}}},
{"transform":[{"filter":"datum.kind=='header'"}],"mark":{"type":"text","align":"right","dx":-16,"dy":-4,"fontWeight":"bold"},"encoding":{"x":{"datum":1,"type":"quantitative","scale":{"domain":[0,1]},"axis":null},"text":{"field":"ci","type":"nominal"}}},
{"transform":[{"filter":"datum.kind=='group'"}],"mark":{"type":"text","align":"center","dx":-11,"dy":-4,"fontWeight":"bold"},"encoding":{"x":{"datum":0.5,"type":"quantitative","scale":{"domain":[0,1]},"axis":null},"text":{"field":"ci","type":"nominal"}}},
{"transform":[{"filter":"datum.kind=='group'"}],"mark":{"type":"rule","yOffset":11,"color":"#444","strokeWidth":2.5},"encoding":{"y":{"datum":"h2","type":"nominal"}}}]},
{"width":659,"height":382.8,"encoding":{"y":{"field":"row","type":"nominal","scale":{"type":"point","padding":0.5,"domain":["h1","h2","Aliyev 2012","Gartska 2018","Landry 2011","Lee 2014","Noureldine 2013","gap","total","het","test"]},"axis":null}},"layer":[
{"transform":[{"filter":"datum.kind=='header'||datum.kind=='group'"}],"mark":{"type":"text","align":"center","dy":-4,"fontWeight":"bold"},"encoding":{"x":{"datum":0,"type":"quantitative","scale":{"domain":[-2.04,2.04],"nice":false}},"text":{"field":"ci","type":"nominal"}}},
{"transform":[{"filter":"datum.kind=='group'"}],"mark":{"type":"rule","yOffset":11,"color":"#444","strokeWidth":2.5},"encoding":{"y":{"datum":"h2","type":"nominal"}}},
{"transform":[{"filter":"datum.kind=='group'"}],"mark":{"type":"rule","color":"#777","strokeWidth":1.5,"yOffset":11,"y2Offset":-8},"encoding":{"x":{"datum":0,"type":"quantitative","scale":{"domain":[-2.04,2.04],"nice":false}},"y":{"datum":"h2","type":"nominal"},"y2":{"datum":"het"}}},
{"transform":[{"filter":"datum.kind=='group'"}],"mark":{"type":"rule","color":"#444","strokeWidth":2.5,"yOffset":-8},"encoding":{"y":{"datum":"het","type":"nominal"}}},
{"transform":[{"filter":"datum.kind=='study'"}],"mark":{"type":"rule","color":"#4d4d4d","strokeWidth":2.5,"yOffset":-5},"encoding":{"x":{"field":"lo","type":"quantitative","scale":{"domain":[-2.04,2.04],"nice":false}},"x2":{"field":"hi"}}},
{"transform":[{"filter":"datum.kind=='study'"}],"mark":{"type":"point","shape":"square","filled":true,"color":"#4dbd44","opacity":1,"strokeWidth":0,"yOffset":-5},"encoding":{"x":{"field":"est","type":"quantitative","scale":{"domain":[-2.04,2.04],"nice":false},"axis":{"orient":"bottom","offset":-68,"values":[-2,-1,0,1,2],"format":"~g","labelExpr":"replace(datum.label,'−','-')","domain":false,"grid":false,"tickSize":16,"tickWidth":2,"tickColor":"#444","labelFontSize":26,"labelColor":"#444","labelFont":"Liberation Sans","labelPadding":3,"labelFlush":false,"labelOverlap":false,"title":null}},"size":{"field":"wt","type":"quantitative","scale":{"type":"pow","exponent":2,"domain":[0,1],"range":[16,2049]},"legend":null}}},
{"transform":[{"filter":"datum.kind=='total'"},{"fold":["lo","est","hi"]}],"mark":{"type":"area","orient":"vertical","color":"#000","opacity":1,"yOffset":{"expr":"datum.key=='est' ? -23 : -8"},"y2Offset":{"expr":"datum.key=='est' ? 7 : -8"}},"encoding":{"x":{"field":"value","type":"quantitative","stack":null,"scale":{"domain":[-2.04,2.04],"nice":false}},"y":{"datum":"total","type":"nominal"},"y2":{"datum":"total"}}},
{"transform":[{"filter":"datum.kind=='group'"}],"mark":{"type":"text","align":"right","dx":-9,"dy":10,"color":"#555"},"encoding":{"x":{"datum":0,"type":"quantitative","scale":{"domain":[-2.04,2.04],"nice":false}},"y":{"datum":"test","type":"nominal"},"text":{"field":"fl","type":"nominal"}}},
{"transform":[{"filter":"datum.kind=='group'"}],"mark":{"type":"text","align":"left","dx":12,"dy":10,"color":"#555"},"encoding":{"x":{"datum":0,"type":"quantitative","scale":{"domain":[-2.04,2.04],"nice":false}},"y":{"datum":"test","type":"nominal"},"text":{"field":"fr","type":"nominal"}}}]},
{"width":32,"height":382.8,"encoding":{"y":{"field":"row","type":"nominal","scale":{"type":"point","padding":0.5,"domain":["h1","h2","Aliyev 2012","Gartska 2018","Landry 2011","Lee 2014","Noureldine 2013","gap","total","het","test"]},"axis":null}},"layer":[
{"transform":[{"filter":"datum.kind=='group'"}],"mark":{"type":"rule","yOffset":11,"color":"#444","strokeWidth":2.5},"encoding":{"y":{"datum":"h2","type":"nominal"}}}]}
]}
]
}
